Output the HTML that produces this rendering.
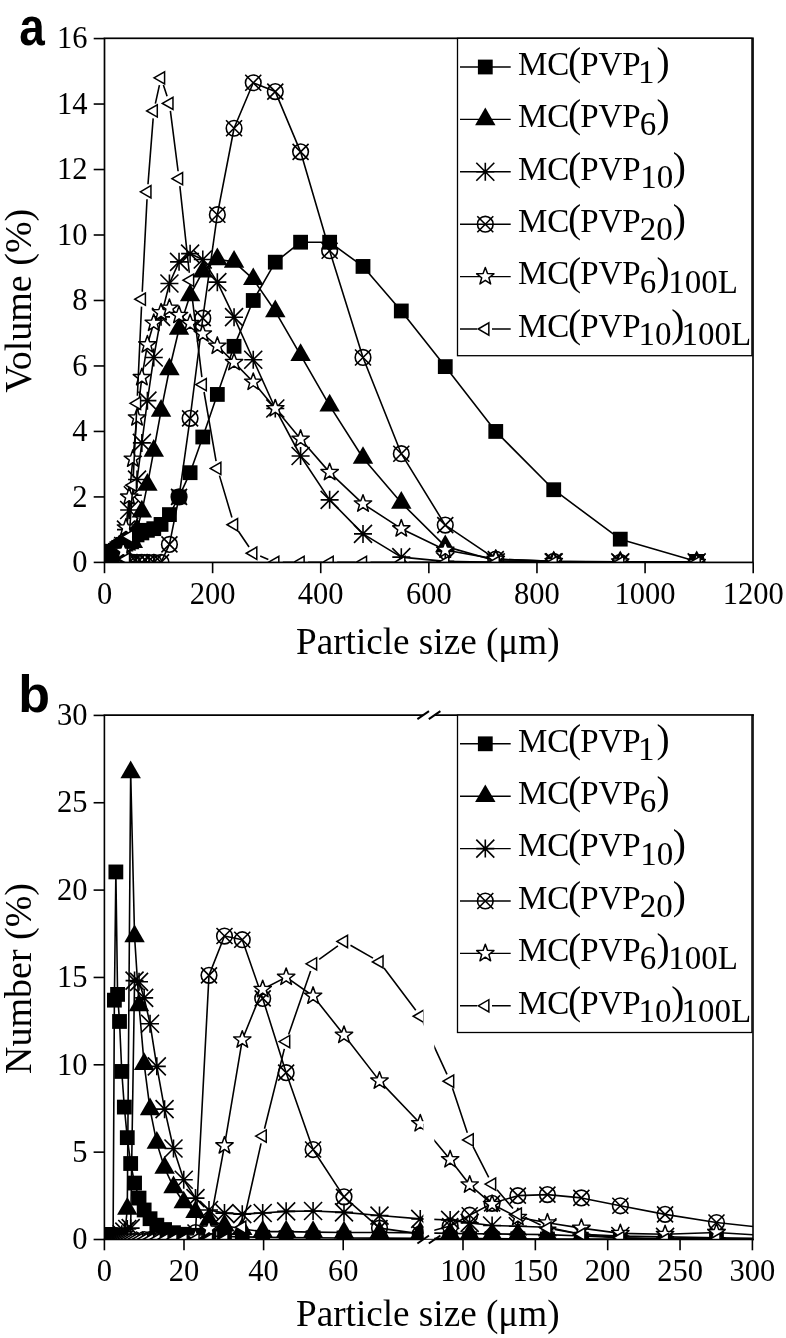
<!DOCTYPE html>
<html><head><meta charset="utf-8"><title>Particle size distribution</title>
<style>html,body{margin:0;padding:0;background:#fff;width:786px;height:1338px;overflow:hidden}svg{display:block;will-change:transform}text{fill:#000}</style>
</head><body>
<svg width="786" height="1338" viewBox="0 0 786 1338" font-family="'Liberation Serif', serif">
<defs>
<clipPath id="clipA"><rect x="104.5" y="38.3" width="648.5" height="524.1"/></clipPath>
<clipPath id="clipB"><rect x="104.4" y="715.1" width="319.0" height="524.4"/><rect x="434.3" y="715.1" width="318.7" height="524.4"/></clipPath>
</defs>
<rect width="786" height="1338" fill="#fff"/>
<g clip-path="url(#clipA)">
<path d="M104.70,557.49L104.73,557.49L104.76,557.49L104.80,557.49L104.84,557.49L104.89,557.49L104.95,557.49L105.02,557.49L105.09,557.49L105.18,557.49L105.28,557.49L105.40,557.49L105.53,557.49L105.68,557.49L105.86,557.49L106.06,557.49L106.29,557.49L106.55,557.49L106.86,557.49L107.21,557.49L107.61,557.49L108.07,557.49L108.60,557.49L109.20,556.83L109.90,555.85L110.70,554.87L111.62,553.89L112.67,552.91L113.89,551.60L115.28,550.29L116.87,548.65L118.71,547.34L120.81,546.03L123.23,544.39L126.00,542.76L129.19,540.14L132.84,537.52L137.04,534.90L141.86,532.93L147.40,530.31L153.76,528.68L161.05,524.42L169.43,514.60L179.05,496.92L190.10,472.69L202.78,437.01L217.34,394.44L234.06,346.32L253.25,300.48L275.29,262.17L300.59,242.20L329.64,242.20L363.00,266.43L401.30,310.96L445.27,366.61L495.76,431.44L553.72,489.72L620.27,539.15L696.69,561.42" stroke="#000" stroke-width="1.6" fill="none" stroke-linejoin="round"/>
<rect x="97.30" y="550.09" width="14.8" height="14.8" fill="#000"/>
<rect x="97.33" y="550.09" width="14.8" height="14.8" fill="#000"/>
<rect x="97.36" y="550.09" width="14.8" height="14.8" fill="#000"/>
<rect x="97.40" y="550.09" width="14.8" height="14.8" fill="#000"/>
<rect x="97.44" y="550.09" width="14.8" height="14.8" fill="#000"/>
<rect x="97.49" y="550.09" width="14.8" height="14.8" fill="#000"/>
<rect x="97.55" y="550.09" width="14.8" height="14.8" fill="#000"/>
<rect x="97.62" y="550.09" width="14.8" height="14.8" fill="#000"/>
<rect x="97.69" y="550.09" width="14.8" height="14.8" fill="#000"/>
<rect x="97.78" y="550.09" width="14.8" height="14.8" fill="#000"/>
<rect x="97.88" y="550.09" width="14.8" height="14.8" fill="#000"/>
<rect x="98.00" y="550.09" width="14.8" height="14.8" fill="#000"/>
<rect x="98.13" y="550.09" width="14.8" height="14.8" fill="#000"/>
<rect x="98.28" y="550.09" width="14.8" height="14.8" fill="#000"/>
<rect x="98.46" y="550.09" width="14.8" height="14.8" fill="#000"/>
<rect x="98.66" y="550.09" width="14.8" height="14.8" fill="#000"/>
<rect x="98.89" y="550.09" width="14.8" height="14.8" fill="#000"/>
<rect x="99.15" y="550.09" width="14.8" height="14.8" fill="#000"/>
<rect x="99.46" y="550.09" width="14.8" height="14.8" fill="#000"/>
<rect x="99.81" y="550.09" width="14.8" height="14.8" fill="#000"/>
<rect x="100.21" y="550.09" width="14.8" height="14.8" fill="#000"/>
<rect x="100.67" y="550.09" width="14.8" height="14.8" fill="#000"/>
<rect x="101.20" y="550.09" width="14.8" height="14.8" fill="#000"/>
<rect x="101.80" y="549.43" width="14.8" height="14.8" fill="#000"/>
<rect x="102.50" y="548.45" width="14.8" height="14.8" fill="#000"/>
<rect x="103.30" y="547.47" width="14.8" height="14.8" fill="#000"/>
<rect x="104.22" y="546.49" width="14.8" height="14.8" fill="#000"/>
<rect x="105.27" y="545.51" width="14.8" height="14.8" fill="#000"/>
<rect x="106.49" y="544.20" width="14.8" height="14.8" fill="#000"/>
<rect x="107.88" y="542.89" width="14.8" height="14.8" fill="#000"/>
<rect x="109.47" y="541.25" width="14.8" height="14.8" fill="#000"/>
<rect x="111.31" y="539.94" width="14.8" height="14.8" fill="#000"/>
<rect x="113.41" y="538.63" width="14.8" height="14.8" fill="#000"/>
<rect x="115.83" y="536.99" width="14.8" height="14.8" fill="#000"/>
<rect x="118.60" y="535.36" width="14.8" height="14.8" fill="#000"/>
<rect x="121.79" y="532.74" width="14.8" height="14.8" fill="#000"/>
<rect x="125.44" y="530.12" width="14.8" height="14.8" fill="#000"/>
<rect x="129.64" y="527.50" width="14.8" height="14.8" fill="#000"/>
<rect x="134.46" y="525.53" width="14.8" height="14.8" fill="#000"/>
<rect x="140.00" y="522.91" width="14.8" height="14.8" fill="#000"/>
<rect x="146.36" y="521.28" width="14.8" height="14.8" fill="#000"/>
<rect x="153.65" y="517.02" width="14.8" height="14.8" fill="#000"/>
<rect x="162.03" y="507.20" width="14.8" height="14.8" fill="#000"/>
<rect x="171.65" y="489.52" width="14.8" height="14.8" fill="#000"/>
<rect x="182.70" y="465.29" width="14.8" height="14.8" fill="#000"/>
<rect x="195.38" y="429.61" width="14.8" height="14.8" fill="#000"/>
<rect x="209.94" y="387.04" width="14.8" height="14.8" fill="#000"/>
<rect x="226.66" y="338.92" width="14.8" height="14.8" fill="#000"/>
<rect x="245.85" y="293.08" width="14.8" height="14.8" fill="#000"/>
<rect x="267.89" y="254.77" width="14.8" height="14.8" fill="#000"/>
<rect x="293.19" y="234.80" width="14.8" height="14.8" fill="#000"/>
<rect x="322.24" y="234.80" width="14.8" height="14.8" fill="#000"/>
<rect x="355.60" y="259.03" width="14.8" height="14.8" fill="#000"/>
<rect x="393.90" y="303.56" width="14.8" height="14.8" fill="#000"/>
<rect x="437.87" y="359.21" width="14.8" height="14.8" fill="#000"/>
<rect x="488.36" y="424.04" width="14.8" height="14.8" fill="#000"/>
<rect x="546.32" y="482.32" width="14.8" height="14.8" fill="#000"/>
<rect x="612.87" y="531.75" width="14.8" height="14.8" fill="#000"/>
<rect x="689.29" y="554.02" width="14.8" height="14.8" fill="#000"/>
<path d="M104.70,555.52L104.73,555.52L104.76,555.52L104.80,555.52L104.84,555.52L104.89,555.52L104.95,555.52L105.02,555.52L105.09,555.52L105.18,555.52L105.28,555.52L105.40,555.52L105.53,555.52L105.68,555.52L105.86,555.52L106.06,555.52L106.29,555.52L106.55,555.52L106.86,555.52L107.21,555.52L107.61,555.52L108.07,555.52L108.60,555.52L109.20,555.20L109.90,554.54L110.70,553.89L111.62,552.91L112.67,551.92L113.89,550.94L115.28,549.96L116.87,548.65L118.71,547.67L120.81,546.68L123.23,545.70L126.00,544.72L129.19,543.41L132.84,542.10L137.04,529.66L141.86,511.65L147.40,484.81L153.76,450.76L161.05,410.81L169.43,369.23L179.05,328.96L190.10,295.24L202.78,271.67L217.34,259.23L234.06,261.85L253.25,279.20L275.29,311.28L300.59,355.16L329.64,405.58L363.00,457.96L401.30,502.81L445.27,546.36L495.76,560.76L553.72,562.40L620.27,562.40L696.69,562.40" stroke="#000" stroke-width="1.6" fill="none" stroke-linejoin="round"/>
<path d="M104.70,543.72L114.92,561.42L94.48,561.42Z" fill="#000"/>
<path d="M104.73,543.72L114.94,561.42L94.51,561.42Z" fill="#000"/>
<path d="M104.76,543.72L114.98,561.42L94.54,561.42Z" fill="#000"/>
<path d="M104.80,543.72L115.02,561.42L94.58,561.42Z" fill="#000"/>
<path d="M104.84,543.72L115.06,561.42L94.62,561.42Z" fill="#000"/>
<path d="M104.89,543.72L115.11,561.42L94.67,561.42Z" fill="#000"/>
<path d="M104.95,543.72L115.17,561.42L94.73,561.42Z" fill="#000"/>
<path d="M105.02,543.72L115.23,561.42L94.80,561.42Z" fill="#000"/>
<path d="M105.09,543.72L115.31,561.42L94.87,561.42Z" fill="#000"/>
<path d="M105.18,543.72L115.40,561.42L94.96,561.42Z" fill="#000"/>
<path d="M105.28,543.72L115.50,561.42L95.06,561.42Z" fill="#000"/>
<path d="M105.40,543.72L115.62,561.42L95.18,561.42Z" fill="#000"/>
<path d="M105.53,543.72L115.75,561.42L95.31,561.42Z" fill="#000"/>
<path d="M105.68,543.72L115.90,561.42L95.46,561.42Z" fill="#000"/>
<path d="M105.86,543.72L116.08,561.42L95.64,561.42Z" fill="#000"/>
<path d="M106.06,543.72L116.28,561.42L95.84,561.42Z" fill="#000"/>
<path d="M106.29,543.72L116.51,561.42L96.07,561.42Z" fill="#000"/>
<path d="M106.55,543.72L116.77,561.42L96.33,561.42Z" fill="#000"/>
<path d="M106.86,543.72L117.08,561.42L96.64,561.42Z" fill="#000"/>
<path d="M107.21,543.72L117.43,561.42L96.99,561.42Z" fill="#000"/>
<path d="M107.61,543.72L117.83,561.42L97.39,561.42Z" fill="#000"/>
<path d="M108.07,543.72L118.29,561.42L97.85,561.42Z" fill="#000"/>
<path d="M108.60,543.72L118.82,561.42L98.38,561.42Z" fill="#000"/>
<path d="M109.20,543.40L119.42,561.10L98.98,561.10Z" fill="#000"/>
<path d="M109.90,542.74L120.12,560.44L99.68,560.44Z" fill="#000"/>
<path d="M110.70,542.09L120.92,559.79L100.48,559.79Z" fill="#000"/>
<path d="M111.62,541.11L121.84,558.81L101.40,558.81Z" fill="#000"/>
<path d="M112.67,540.12L122.89,557.82L102.46,557.82Z" fill="#000"/>
<path d="M113.89,539.14L124.10,556.84L103.67,556.84Z" fill="#000"/>
<path d="M115.28,538.16L125.50,555.86L105.06,555.86Z" fill="#000"/>
<path d="M116.87,536.85L127.09,554.55L106.65,554.55Z" fill="#000"/>
<path d="M118.71,535.87L128.92,553.57L108.49,553.57Z" fill="#000"/>
<path d="M120.81,534.88L131.03,552.58L110.59,552.58Z" fill="#000"/>
<path d="M123.23,533.90L133.45,551.60L113.01,551.60Z" fill="#000"/>
<path d="M126.00,532.92L136.22,550.62L115.78,550.62Z" fill="#000"/>
<path d="M129.19,531.61L139.41,549.31L118.97,549.31Z" fill="#000"/>
<path d="M132.84,530.30L143.06,548.00L122.62,548.00Z" fill="#000"/>
<path d="M137.04,517.86L147.26,535.56L126.82,535.56Z" fill="#000"/>
<path d="M141.86,499.85L152.08,517.55L131.65,517.55Z" fill="#000"/>
<path d="M147.40,473.01L157.62,490.71L137.18,490.71Z" fill="#000"/>
<path d="M153.76,438.96L163.98,456.66L143.54,456.66Z" fill="#000"/>
<path d="M161.05,399.01L171.27,416.71L150.83,416.71Z" fill="#000"/>
<path d="M169.43,357.43L179.65,375.13L159.21,375.13Z" fill="#000"/>
<path d="M179.05,317.16L189.27,334.86L168.83,334.86Z" fill="#000"/>
<path d="M190.10,283.44L200.32,301.14L179.88,301.14Z" fill="#000"/>
<path d="M202.78,259.87L213.00,277.57L192.56,277.57Z" fill="#000"/>
<path d="M217.34,247.43L227.56,265.13L207.12,265.13Z" fill="#000"/>
<path d="M234.06,250.05L244.28,267.75L223.84,267.75Z" fill="#000"/>
<path d="M253.25,267.40L263.47,285.10L243.03,285.10Z" fill="#000"/>
<path d="M275.29,299.48L285.51,317.18L265.07,317.18Z" fill="#000"/>
<path d="M300.59,343.36L310.81,361.06L290.37,361.06Z" fill="#000"/>
<path d="M329.64,393.78L339.86,411.48L319.42,411.48Z" fill="#000"/>
<path d="M363.00,446.16L373.22,463.86L352.78,463.86Z" fill="#000"/>
<path d="M401.30,491.01L411.52,508.71L391.08,508.71Z" fill="#000"/>
<path d="M445.27,534.56L455.49,552.26L435.05,552.26Z" fill="#000"/>
<path d="M495.76,548.96L505.97,566.66L485.54,566.66Z" fill="#000"/>
<path d="M553.72,550.60L563.94,568.30L543.50,568.30Z" fill="#000"/>
<path d="M620.27,550.60L630.49,568.30L610.06,568.30Z" fill="#000"/>
<path d="M696.69,550.60L706.91,568.30L686.47,568.30Z" fill="#000"/>
<path d="M116.87,560.76L118.71,559.13L120.81,554.22L123.23,546.03L126.00,529.66L129.19,510.02L132.84,495.28L137.04,479.57L141.86,442.90L147.40,400.66L153.76,357.45L161.05,316.85L169.43,283.46L179.05,261.85L190.10,253.66L202.78,259.55L217.34,282.15L234.06,317.18L253.25,359.74L275.29,408.52L300.59,456.00L329.64,499.87L363.00,533.92L401.30,557.16L445.27,561.42L495.76,562.40L553.72,562.40L620.27,562.40L696.69,562.40" stroke="#000" stroke-width="1.6" fill="none" stroke-linejoin="round"/>
<path d="M107.87,560.76H125.87M116.87,551.76V569.76M107.87,551.76L125.87,569.76M107.87,569.76L125.87,551.76" stroke="#000" stroke-width="1.6" fill="none"/>
<path d="M109.71,559.13H127.71M118.71,550.13V568.13M109.71,550.13L127.71,568.13M109.71,568.13L127.71,550.13" stroke="#000" stroke-width="1.6" fill="none"/>
<path d="M111.81,554.22H129.81M120.81,545.22V563.22M111.81,545.22L129.81,563.22M111.81,563.22L129.81,545.22" stroke="#000" stroke-width="1.6" fill="none"/>
<path d="M114.23,546.03H132.23M123.23,537.03V555.03M114.23,537.03L132.23,555.03M114.23,555.03L132.23,537.03" stroke="#000" stroke-width="1.6" fill="none"/>
<path d="M117.00,529.66H135.00M126.00,520.66V538.66M117.00,520.66L135.00,538.66M117.00,538.66L135.00,520.66" stroke="#000" stroke-width="1.6" fill="none"/>
<path d="M120.19,510.02H138.19M129.19,501.02V519.02M120.19,501.02L138.19,519.02M120.19,519.02L138.19,501.02" stroke="#000" stroke-width="1.6" fill="none"/>
<path d="M123.84,495.28H141.84M132.84,486.28V504.28M123.84,486.28L141.84,504.28M123.84,504.28L141.84,486.28" stroke="#000" stroke-width="1.6" fill="none"/>
<path d="M128.04,479.57H146.04M137.04,470.57V488.57M128.04,470.57L146.04,488.57M128.04,488.57L146.04,470.57" stroke="#000" stroke-width="1.6" fill="none"/>
<path d="M132.86,442.90H150.86M141.86,433.90V451.90M132.86,433.90L150.86,451.90M132.86,451.90L150.86,433.90" stroke="#000" stroke-width="1.6" fill="none"/>
<path d="M138.40,400.66H156.40M147.40,391.66V409.66M138.40,391.66L156.40,409.66M138.40,409.66L156.40,391.66" stroke="#000" stroke-width="1.6" fill="none"/>
<path d="M144.76,357.45H162.76M153.76,348.45V366.45M144.76,348.45L162.76,366.45M144.76,366.45L162.76,348.45" stroke="#000" stroke-width="1.6" fill="none"/>
<path d="M152.05,316.85H170.05M161.05,307.85V325.85M152.05,307.85L170.05,325.85M152.05,325.85L170.05,307.85" stroke="#000" stroke-width="1.6" fill="none"/>
<path d="M160.43,283.46H178.43M169.43,274.46V292.46M160.43,274.46L178.43,292.46M160.43,292.46L178.43,274.46" stroke="#000" stroke-width="1.6" fill="none"/>
<path d="M170.05,261.85H188.05M179.05,252.85V270.85M170.05,252.85L188.05,270.85M170.05,270.85L188.05,252.85" stroke="#000" stroke-width="1.6" fill="none"/>
<path d="M181.10,253.66H199.10M190.10,244.66V262.66M181.10,244.66L199.10,262.66M181.10,262.66L199.10,244.66" stroke="#000" stroke-width="1.6" fill="none"/>
<path d="M193.78,259.55H211.78M202.78,250.55V268.55M193.78,250.55L211.78,268.55M193.78,268.55L211.78,250.55" stroke="#000" stroke-width="1.6" fill="none"/>
<path d="M208.34,282.15H226.34M217.34,273.15V291.15M208.34,273.15L226.34,291.15M208.34,291.15L226.34,273.15" stroke="#000" stroke-width="1.6" fill="none"/>
<path d="M225.06,317.18H243.06M234.06,308.18V326.18M225.06,308.18L243.06,326.18M225.06,326.18L243.06,308.18" stroke="#000" stroke-width="1.6" fill="none"/>
<path d="M244.25,359.74H262.25M253.25,350.74V368.74M244.25,350.74L262.25,368.74M244.25,368.74L262.25,350.74" stroke="#000" stroke-width="1.6" fill="none"/>
<path d="M266.29,408.52H284.29M275.29,399.52V417.52M266.29,399.52L284.29,417.52M266.29,417.52L284.29,399.52" stroke="#000" stroke-width="1.6" fill="none"/>
<path d="M291.59,456.00H309.59M300.59,447.00V465.00M291.59,447.00L309.59,465.00M291.59,465.00L309.59,447.00" stroke="#000" stroke-width="1.6" fill="none"/>
<path d="M320.64,499.87H338.64M329.64,490.87V508.87M320.64,490.87L338.64,508.87M320.64,508.87L338.64,490.87" stroke="#000" stroke-width="1.6" fill="none"/>
<path d="M354.00,533.92H372.00M363.00,524.92V542.92M354.00,524.92L372.00,542.92M354.00,542.92L372.00,524.92" stroke="#000" stroke-width="1.6" fill="none"/>
<path d="M392.30,557.16H410.30M401.30,548.16V566.16M392.30,548.16L410.30,566.16M392.30,566.16L410.30,548.16" stroke="#000" stroke-width="1.6" fill="none"/>
<path d="M436.27,561.42H454.27M445.27,552.42V570.42M436.27,552.42L454.27,570.42M436.27,570.42L454.27,552.42" stroke="#000" stroke-width="1.6" fill="none"/>
<path d="M486.76,562.40H504.76M495.76,553.40V571.40M486.76,553.40L504.76,571.40M486.76,571.40L504.76,553.40" stroke="#000" stroke-width="1.6" fill="none"/>
<path d="M544.72,562.40H562.72M553.72,553.40V571.40M544.72,553.40L562.72,571.40M544.72,571.40L562.72,553.40" stroke="#000" stroke-width="1.6" fill="none"/>
<path d="M611.27,562.40H629.27M620.27,553.40V571.40M611.27,553.40L629.27,571.40M611.27,571.40L629.27,553.40" stroke="#000" stroke-width="1.6" fill="none"/>
<path d="M687.69,562.40H705.69M696.69,553.40V571.40M687.69,553.40L705.69,571.40M687.69,571.40L705.69,553.40" stroke="#000" stroke-width="1.6" fill="none"/>
<path d="M129.19,562.40L132.84,562.40L137.04,562.40L141.86,562.40L147.40,562.40L153.76,562.40L161.05,562.40L169.43,544.39L179.05,496.92L190.10,418.34L202.78,318.16L217.34,214.70L234.06,128.27L253.25,82.76L275.29,91.60L300.59,151.84L329.64,250.72L363.00,357.45L401.30,453.70L445.27,525.08L495.76,559.13L553.72,561.42L620.27,562.40L696.69,562.40" stroke="#000" stroke-width="1.6" fill="none" stroke-linejoin="round"/>
<circle cx="129.19" cy="562.40" r="7.8" stroke="#000" stroke-width="1.6" fill="none"/><path d="M121.19,554.40L137.19,570.40M121.19,570.40L137.19,554.40" stroke="#000" stroke-width="1.6"/>
<circle cx="132.84" cy="562.40" r="7.8" stroke="#000" stroke-width="1.6" fill="none"/><path d="M124.84,554.40L140.84,570.40M124.84,570.40L140.84,554.40" stroke="#000" stroke-width="1.6"/>
<circle cx="137.04" cy="562.40" r="7.8" stroke="#000" stroke-width="1.6" fill="none"/><path d="M129.04,554.40L145.04,570.40M129.04,570.40L145.04,554.40" stroke="#000" stroke-width="1.6"/>
<circle cx="141.86" cy="562.40" r="7.8" stroke="#000" stroke-width="1.6" fill="none"/><path d="M133.86,554.40L149.86,570.40M133.86,570.40L149.86,554.40" stroke="#000" stroke-width="1.6"/>
<circle cx="147.40" cy="562.40" r="7.8" stroke="#000" stroke-width="1.6" fill="none"/><path d="M139.40,554.40L155.40,570.40M139.40,570.40L155.40,554.40" stroke="#000" stroke-width="1.6"/>
<circle cx="153.76" cy="562.40" r="7.8" stroke="#000" stroke-width="1.6" fill="none"/><path d="M145.76,554.40L161.76,570.40M145.76,570.40L161.76,554.40" stroke="#000" stroke-width="1.6"/>
<circle cx="161.05" cy="562.40" r="7.8" stroke="#000" stroke-width="1.6" fill="none"/><path d="M153.05,554.40L169.05,570.40M153.05,570.40L169.05,554.40" stroke="#000" stroke-width="1.6"/>
<circle cx="169.43" cy="544.39" r="7.8" stroke="#000" stroke-width="1.6" fill="none"/><path d="M161.43,536.39L177.43,552.39M161.43,552.39L177.43,536.39" stroke="#000" stroke-width="1.6"/>
<circle cx="179.05" cy="496.92" r="7.8" stroke="#000" stroke-width="1.6" fill="none"/><path d="M171.05,488.92L187.05,504.92M171.05,504.92L187.05,488.92" stroke="#000" stroke-width="1.6"/>
<circle cx="190.10" cy="418.34" r="7.8" stroke="#000" stroke-width="1.6" fill="none"/><path d="M182.10,410.34L198.10,426.34M182.10,426.34L198.10,410.34" stroke="#000" stroke-width="1.6"/>
<circle cx="202.78" cy="318.16" r="7.8" stroke="#000" stroke-width="1.6" fill="none"/><path d="M194.78,310.16L210.78,326.16M194.78,326.16L210.78,310.16" stroke="#000" stroke-width="1.6"/>
<circle cx="217.34" cy="214.70" r="7.8" stroke="#000" stroke-width="1.6" fill="none"/><path d="M209.34,206.70L225.34,222.70M209.34,222.70L225.34,206.70" stroke="#000" stroke-width="1.6"/>
<circle cx="234.06" cy="128.27" r="7.8" stroke="#000" stroke-width="1.6" fill="none"/><path d="M226.06,120.27L242.06,136.27M226.06,136.27L242.06,120.27" stroke="#000" stroke-width="1.6"/>
<circle cx="253.25" cy="82.76" r="7.8" stroke="#000" stroke-width="1.6" fill="none"/><path d="M245.25,74.76L261.25,90.76M245.25,90.76L261.25,74.76" stroke="#000" stroke-width="1.6"/>
<circle cx="275.29" cy="91.60" r="7.8" stroke="#000" stroke-width="1.6" fill="none"/><path d="M267.29,83.60L283.29,99.60M267.29,99.60L283.29,83.60" stroke="#000" stroke-width="1.6"/>
<circle cx="300.59" cy="151.84" r="7.8" stroke="#000" stroke-width="1.6" fill="none"/><path d="M292.59,143.84L308.59,159.84M292.59,159.84L308.59,143.84" stroke="#000" stroke-width="1.6"/>
<circle cx="329.64" cy="250.72" r="7.8" stroke="#000" stroke-width="1.6" fill="none"/><path d="M321.64,242.72L337.64,258.72M321.64,258.72L337.64,242.72" stroke="#000" stroke-width="1.6"/>
<circle cx="363.00" cy="357.45" r="7.8" stroke="#000" stroke-width="1.6" fill="none"/><path d="M355.00,349.45L371.00,365.45M355.00,365.45L371.00,349.45" stroke="#000" stroke-width="1.6"/>
<circle cx="401.30" cy="453.70" r="7.8" stroke="#000" stroke-width="1.6" fill="none"/><path d="M393.30,445.70L409.30,461.70M393.30,461.70L409.30,445.70" stroke="#000" stroke-width="1.6"/>
<circle cx="445.27" cy="525.08" r="7.8" stroke="#000" stroke-width="1.6" fill="none"/><path d="M437.27,517.08L453.27,533.08M437.27,533.08L453.27,517.08" stroke="#000" stroke-width="1.6"/>
<circle cx="495.76" cy="559.13" r="7.8" stroke="#000" stroke-width="1.6" fill="none"/><path d="M487.76,551.13L503.76,567.13M487.76,567.13L503.76,551.13" stroke="#000" stroke-width="1.6"/>
<circle cx="553.72" cy="561.42" r="7.8" stroke="#000" stroke-width="1.6" fill="none"/><path d="M545.72,553.42L561.72,569.42M545.72,569.42L561.72,553.42" stroke="#000" stroke-width="1.6"/>
<circle cx="620.27" cy="562.40" r="7.8" stroke="#000" stroke-width="1.6" fill="none"/><path d="M612.27,554.40L628.27,570.40M612.27,570.40L628.27,554.40" stroke="#000" stroke-width="1.6"/>
<circle cx="696.69" cy="562.40" r="7.8" stroke="#000" stroke-width="1.6" fill="none"/><path d="M688.69,554.40L704.69,570.40M688.69,570.40L704.69,554.40" stroke="#000" stroke-width="1.6"/>
<path d="M123.23,550.94L126.00,527.70L129.19,496.92L132.84,458.94L137.04,417.69L141.86,377.42L147.40,344.68L153.76,323.07L161.05,312.59L169.43,308.01L179.05,315.21L190.10,323.40L202.78,333.87L217.34,345.99L234.06,362.36L253.25,382.00L275.29,408.52L300.59,438.97L329.64,472.36L363.00,503.80L401.30,528.68L445.27,549.96L495.76,559.13L553.72,561.42L620.27,561.75L696.69,562.40" stroke="#000" stroke-width="1.6" fill="none" stroke-linejoin="round"/>
<polygon points="123.23,541.84 125.43,547.91 131.88,548.13 126.79,552.10 128.58,558.30 123.23,554.69 117.88,558.30 119.66,552.10 114.57,548.13 121.02,547.91" fill="#fff" stroke="#000" stroke-width="1.5" stroke-linejoin="round"/>
<polygon points="126.00,518.60 128.21,524.66 134.66,524.88 129.57,528.85 131.35,535.06 126.00,531.45 120.65,535.06 122.43,528.85 117.35,524.88 123.80,524.66" fill="#fff" stroke="#000" stroke-width="1.5" stroke-linejoin="round"/>
<polygon points="129.19,487.82 131.39,493.89 137.84,494.11 132.75,498.08 134.54,504.28 129.19,500.67 123.84,504.28 125.62,498.08 120.53,494.11 126.98,493.89" fill="#fff" stroke="#000" stroke-width="1.5" stroke-linejoin="round"/>
<polygon points="132.84,449.84 135.05,455.91 141.50,456.13 136.41,460.10 138.19,466.30 132.84,462.69 127.50,466.30 129.28,460.10 124.19,456.13 130.64,455.91" fill="#fff" stroke="#000" stroke-width="1.5" stroke-linejoin="round"/>
<polygon points="137.04,408.59 139.25,414.66 145.70,414.88 140.61,418.85 142.39,425.05 137.04,421.44 131.69,425.05 133.48,418.85 128.39,414.88 134.84,414.66" fill="#fff" stroke="#000" stroke-width="1.5" stroke-linejoin="round"/>
<polygon points="141.86,368.32 144.07,374.39 150.52,374.61 145.43,378.58 147.21,384.78 141.86,381.17 136.52,384.78 138.30,378.58 133.21,374.61 139.66,374.39" fill="#fff" stroke="#000" stroke-width="1.5" stroke-linejoin="round"/>
<polygon points="147.40,335.58 149.60,341.65 156.05,341.87 150.97,345.84 152.75,352.04 147.40,348.43 142.05,352.04 143.83,345.84 138.75,341.87 145.20,341.65" fill="#fff" stroke="#000" stroke-width="1.5" stroke-linejoin="round"/>
<polygon points="153.76,313.97 155.96,320.04 162.41,320.26 157.32,324.23 159.10,330.43 153.76,326.82 148.41,330.43 150.19,324.23 145.10,320.26 151.55,320.04" fill="#fff" stroke="#000" stroke-width="1.5" stroke-linejoin="round"/>
<polygon points="161.05,303.49 163.26,309.56 169.71,309.78 164.62,313.75 166.40,319.96 161.05,316.34 155.70,319.96 157.49,313.75 152.40,309.78 158.85,309.56" fill="#fff" stroke="#000" stroke-width="1.5" stroke-linejoin="round"/>
<polygon points="169.43,298.91 171.64,304.98 178.09,305.20 173.00,309.17 174.78,315.37 169.43,311.76 164.08,315.37 165.87,309.17 160.78,305.20 167.23,304.98" fill="#fff" stroke="#000" stroke-width="1.5" stroke-linejoin="round"/>
<polygon points="179.05,306.11 181.26,312.18 187.71,312.40 182.62,316.37 184.40,322.58 179.05,318.96 173.70,322.58 175.49,316.37 170.40,312.40 176.85,312.18" fill="#fff" stroke="#000" stroke-width="1.5" stroke-linejoin="round"/>
<polygon points="190.10,314.30 192.30,320.36 198.75,320.59 193.66,324.56 195.45,330.76 190.10,327.15 184.75,330.76 186.53,324.56 181.44,320.59 187.89,320.36" fill="#fff" stroke="#000" stroke-width="1.5" stroke-linejoin="round"/>
<polygon points="202.78,324.77 204.98,330.84 211.43,331.06 206.35,335.03 208.13,341.24 202.78,337.62 197.43,341.24 199.21,335.03 194.12,331.06 200.57,330.84" fill="#fff" stroke="#000" stroke-width="1.5" stroke-linejoin="round"/>
<polygon points="217.34,336.89 219.54,342.95 225.99,343.18 220.91,347.15 222.69,353.35 217.34,349.74 211.99,353.35 213.77,347.15 208.68,343.18 215.13,342.95" fill="#fff" stroke="#000" stroke-width="1.5" stroke-linejoin="round"/>
<polygon points="234.06,353.26 236.26,359.32 242.71,359.55 237.62,363.52 239.41,369.72 234.06,366.11 228.71,369.72 230.49,363.52 225.40,359.55 231.85,359.32" fill="#fff" stroke="#000" stroke-width="1.5" stroke-linejoin="round"/>
<polygon points="253.25,372.90 255.46,378.97 261.91,379.19 256.82,383.16 258.60,389.36 253.25,385.75 247.90,389.36 249.68,383.16 244.60,379.19 251.05,378.97" fill="#fff" stroke="#000" stroke-width="1.5" stroke-linejoin="round"/>
<polygon points="275.29,399.42 277.49,405.49 283.94,405.71 278.86,409.68 280.64,415.88 275.29,412.27 269.94,415.88 271.72,409.68 266.63,405.71 273.08,405.49" fill="#fff" stroke="#000" stroke-width="1.5" stroke-linejoin="round"/>
<polygon points="300.59,429.87 302.80,435.94 309.25,436.16 304.16,440.13 305.94,446.33 300.59,442.72 295.24,446.33 297.03,440.13 291.94,436.16 298.39,435.94" fill="#fff" stroke="#000" stroke-width="1.5" stroke-linejoin="round"/>
<polygon points="329.64,463.26 331.85,469.33 338.30,469.55 333.21,473.52 334.99,479.73 329.64,476.11 324.29,479.73 326.08,473.52 320.99,469.55 327.44,469.33" fill="#fff" stroke="#000" stroke-width="1.5" stroke-linejoin="round"/>
<polygon points="363.00,494.70 365.20,500.76 371.65,500.98 366.57,504.95 368.35,511.16 363.00,507.55 357.65,511.16 359.43,504.95 354.35,500.98 360.80,500.76" fill="#fff" stroke="#000" stroke-width="1.5" stroke-linejoin="round"/>
<polygon points="401.30,519.58 403.50,525.64 409.95,525.87 404.86,529.84 406.65,536.04 401.30,532.43 395.95,536.04 397.73,529.84 392.64,525.87 399.09,525.64" fill="#fff" stroke="#000" stroke-width="1.5" stroke-linejoin="round"/>
<polygon points="445.27,540.86 447.47,546.92 453.92,547.15 448.84,551.12 450.62,557.32 445.27,553.71 439.92,557.32 441.70,551.12 436.61,547.15 443.06,546.92" fill="#fff" stroke="#000" stroke-width="1.5" stroke-linejoin="round"/>
<polygon points="495.76,550.03 497.96,556.09 504.41,556.31 499.32,560.28 501.10,566.49 495.76,562.88 490.41,566.49 492.19,560.28 487.10,556.31 493.55,556.09" fill="#fff" stroke="#000" stroke-width="1.5" stroke-linejoin="round"/>
<polygon points="553.72,552.32 555.93,558.38 562.38,558.61 557.29,562.58 559.07,568.78 553.72,565.17 548.37,568.78 550.15,562.58 545.07,558.61 551.52,558.38" fill="#fff" stroke="#000" stroke-width="1.5" stroke-linejoin="round"/>
<polygon points="620.27,552.65 622.48,558.71 628.93,558.93 623.84,562.90 625.62,569.11 620.27,565.50 614.93,569.11 616.71,562.90 611.62,558.93 618.07,558.71" fill="#fff" stroke="#000" stroke-width="1.5" stroke-linejoin="round"/>
<polygon points="696.69,553.30 698.89,559.37 705.34,559.59 700.25,563.56 702.04,569.76 696.69,566.15 691.34,569.76 693.12,563.56 688.03,559.59 694.48,559.37" fill="#fff" stroke="#000" stroke-width="1.5" stroke-linejoin="round"/>
<path d="M127.05,551.70L128.14,543.96M129.72,529.05L132.31,492.61M133.23,477.64L136.66,410.77M137.39,395.79L141.52,306.66M142.25,291.68L147.01,199.27M147.99,184.31L153.17,118.39M155.37,103.59L159.44,85.17M163.39,84.97L167.09,96.26M170.38,110.82L178.10,171.25M179.86,186.14L189.29,272.73M191.00,287.63L201.87,377.18M204.06,392.01L216.06,461.05M219.47,475.63L231.92,517.56M238.25,530.97L249.06,547.01M260.18,556.11L268.36,559.52M282.79,562.40L293.09,562.40M308.09,562.40L322.14,562.40M337.14,562.40L355.50,562.40M370.50,562.40L393.80,562.40M408.80,562.40L437.77,562.40M452.77,562.40L488.26,562.40M503.26,562.40L546.22,562.40M561.22,562.40L612.77,562.40M627.77,562.40L689.19,562.40" stroke="#000" stroke-width="1.6" fill="none"/>
<path d="M118.93,559.13L129.54,553.00L129.54,565.25Z" fill="#fff" stroke="#000" stroke-width="1.5"/>
<path d="M122.12,536.54L132.72,530.41L132.72,542.66Z" fill="#fff" stroke="#000" stroke-width="1.5"/>
<path d="M125.77,485.13L136.38,479.01L136.38,491.26Z" fill="#fff" stroke="#000" stroke-width="1.5"/>
<path d="M129.97,403.28L140.58,397.16L140.58,409.41Z" fill="#fff" stroke="#000" stroke-width="1.5"/>
<path d="M134.79,299.17L145.40,293.05L145.40,305.29Z" fill="#fff" stroke="#000" stroke-width="1.5"/>
<path d="M140.33,191.78L150.94,185.66L150.94,197.91Z" fill="#fff" stroke="#000" stroke-width="1.5"/>
<path d="M146.69,110.92L157.29,104.79L157.29,117.04Z" fill="#fff" stroke="#000" stroke-width="1.5"/>
<path d="M153.98,77.85L164.59,71.73L164.59,83.97Z" fill="#fff" stroke="#000" stroke-width="1.5"/>
<path d="M162.36,103.39L172.97,97.26L172.97,109.51Z" fill="#fff" stroke="#000" stroke-width="1.5"/>
<path d="M171.98,178.69L182.59,172.56L182.59,184.81Z" fill="#fff" stroke="#000" stroke-width="1.5"/>
<path d="M183.03,280.18L193.63,274.06L193.63,286.30Z" fill="#fff" stroke="#000" stroke-width="1.5"/>
<path d="M195.71,384.62L206.31,378.50L206.31,390.74Z" fill="#fff" stroke="#000" stroke-width="1.5"/>
<path d="M210.27,468.44L220.87,462.31L220.87,474.56Z" fill="#fff" stroke="#000" stroke-width="1.5"/>
<path d="M226.99,524.75L237.59,518.63L237.59,530.87Z" fill="#fff" stroke="#000" stroke-width="1.5"/>
<path d="M246.18,553.23L256.79,547.11L256.79,559.36Z" fill="#fff" stroke="#000" stroke-width="1.5"/>
<path d="M268.22,562.40L278.82,556.28L278.82,568.52Z" fill="#fff" stroke="#000" stroke-width="1.5"/>
<path d="M293.52,562.40L304.13,556.28L304.13,568.52Z" fill="#fff" stroke="#000" stroke-width="1.5"/>
<path d="M322.57,562.40L333.18,556.28L333.18,568.52Z" fill="#fff" stroke="#000" stroke-width="1.5"/>
<path d="M355.93,562.40L366.53,556.28L366.53,568.52Z" fill="#fff" stroke="#000" stroke-width="1.5"/>
<path d="M394.23,562.40L404.83,556.28L404.83,568.52Z" fill="#fff" stroke="#000" stroke-width="1.5"/>
<path d="M438.20,562.40L448.80,556.28L448.80,568.52Z" fill="#fff" stroke="#000" stroke-width="1.5"/>
<path d="M488.69,562.40L499.29,556.28L499.29,568.52Z" fill="#fff" stroke="#000" stroke-width="1.5"/>
<path d="M546.65,562.40L557.26,556.28L557.26,568.52Z" fill="#fff" stroke="#000" stroke-width="1.5"/>
<path d="M613.20,562.40L623.81,556.28L623.81,568.52Z" fill="#fff" stroke="#000" stroke-width="1.5"/>
<path d="M689.62,562.40L700.22,556.28L700.22,568.52Z" fill="#fff" stroke="#000" stroke-width="1.5"/>
</g>
<g clip-path="url(#clipB)">
<path d="M106.30,1234.96L106.59,1234.96L106.91,1234.96L107.28,1234.96L107.71,1234.96L108.20,1234.96L108.76,1234.96L109.41,1234.96L110.15,1234.96L111.00,1234.96L111.98,1234.96L113.10,1234.96L114.39,1000.16L115.87,871.93L117.57,994.40L119.52,1021.47L121.76,1071.44L124.33,1107.08L127.28,1137.65L130.67,1163.51L134.56,1183.07L139.03,1198.10L144.16,1209.98L150.05,1218.71L156.82,1225.17L164.58,1229.54L173.50,1232.69L183.74,1234.26L195.49,1235.31L208.99,1236.01L224.48,1236.53L242.27,1236.88L262.70,1237.23L286.15,1237.58L313.08,1237.75L344.00,1237.93L379.50,1238.10L420.25,1238.28L450.15,1238.45L469.68,1238.63L492.11,1238.63L517.86,1238.80L547.42,1238.98L581.37,1239.15L620.34,1239.15L665.09,1239.33L716.47,1239.33L775.46,1239.50L843.19,1239.50L920.95,1239.50L1010.24,1239.50L1112.75,1239.50" stroke="#000" stroke-width="1.6" fill="none" stroke-linejoin="round"/>
<rect x="98.90" y="1227.56" width="14.8" height="14.8" fill="#000"/>
<rect x="99.19" y="1227.56" width="14.8" height="14.8" fill="#000"/>
<rect x="99.51" y="1227.56" width="14.8" height="14.8" fill="#000"/>
<rect x="99.88" y="1227.56" width="14.8" height="14.8" fill="#000"/>
<rect x="100.31" y="1227.56" width="14.8" height="14.8" fill="#000"/>
<rect x="100.80" y="1227.56" width="14.8" height="14.8" fill="#000"/>
<rect x="101.36" y="1227.56" width="14.8" height="14.8" fill="#000"/>
<rect x="102.01" y="1227.56" width="14.8" height="14.8" fill="#000"/>
<rect x="102.75" y="1227.56" width="14.8" height="14.8" fill="#000"/>
<rect x="103.60" y="1227.56" width="14.8" height="14.8" fill="#000"/>
<rect x="104.58" y="1227.56" width="14.8" height="14.8" fill="#000"/>
<rect x="105.70" y="1227.56" width="14.8" height="14.8" fill="#000"/>
<rect x="106.99" y="992.76" width="14.8" height="14.8" fill="#000"/>
<rect x="108.47" y="864.53" width="14.8" height="14.8" fill="#000"/>
<rect x="110.17" y="987.00" width="14.8" height="14.8" fill="#000"/>
<rect x="112.12" y="1014.07" width="14.8" height="14.8" fill="#000"/>
<rect x="114.36" y="1064.04" width="14.8" height="14.8" fill="#000"/>
<rect x="116.93" y="1099.68" width="14.8" height="14.8" fill="#000"/>
<rect x="119.88" y="1130.25" width="14.8" height="14.8" fill="#000"/>
<rect x="123.27" y="1156.11" width="14.8" height="14.8" fill="#000"/>
<rect x="127.16" y="1175.67" width="14.8" height="14.8" fill="#000"/>
<rect x="131.63" y="1190.70" width="14.8" height="14.8" fill="#000"/>
<rect x="136.76" y="1202.58" width="14.8" height="14.8" fill="#000"/>
<rect x="142.65" y="1211.31" width="14.8" height="14.8" fill="#000"/>
<rect x="149.42" y="1217.77" width="14.8" height="14.8" fill="#000"/>
<rect x="157.18" y="1222.14" width="14.8" height="14.8" fill="#000"/>
<rect x="166.10" y="1225.29" width="14.8" height="14.8" fill="#000"/>
<rect x="176.34" y="1226.86" width="14.8" height="14.8" fill="#000"/>
<rect x="188.09" y="1227.91" width="14.8" height="14.8" fill="#000"/>
<rect x="201.59" y="1228.61" width="14.8" height="14.8" fill="#000"/>
<rect x="217.08" y="1229.13" width="14.8" height="14.8" fill="#000"/>
<rect x="234.87" y="1229.48" width="14.8" height="14.8" fill="#000"/>
<rect x="255.30" y="1229.83" width="14.8" height="14.8" fill="#000"/>
<rect x="278.75" y="1230.18" width="14.8" height="14.8" fill="#000"/>
<rect x="305.68" y="1230.35" width="14.8" height="14.8" fill="#000"/>
<rect x="336.60" y="1230.53" width="14.8" height="14.8" fill="#000"/>
<rect x="372.10" y="1230.70" width="14.8" height="14.8" fill="#000"/>
<rect x="412.85" y="1230.88" width="14.8" height="14.8" fill="#000"/>
<rect x="442.75" y="1231.05" width="14.8" height="14.8" fill="#000"/>
<rect x="462.28" y="1231.23" width="14.8" height="14.8" fill="#000"/>
<rect x="484.71" y="1231.23" width="14.8" height="14.8" fill="#000"/>
<rect x="510.46" y="1231.40" width="14.8" height="14.8" fill="#000"/>
<rect x="540.02" y="1231.58" width="14.8" height="14.8" fill="#000"/>
<rect x="573.97" y="1231.75" width="14.8" height="14.8" fill="#000"/>
<rect x="612.94" y="1231.75" width="14.8" height="14.8" fill="#000"/>
<rect x="657.69" y="1231.93" width="14.8" height="14.8" fill="#000"/>
<rect x="709.07" y="1231.93" width="14.8" height="14.8" fill="#000"/>
<rect x="768.06" y="1232.10" width="14.8" height="14.8" fill="#000"/>
<rect x="835.79" y="1232.10" width="14.8" height="14.8" fill="#000"/>
<rect x="913.55" y="1232.10" width="14.8" height="14.8" fill="#000"/>
<rect x="1002.84" y="1232.10" width="14.8" height="14.8" fill="#000"/>
<rect x="1105.35" y="1232.10" width="14.8" height="14.8" fill="#000"/>
<path d="M106.30,1239.50L106.59,1239.50L106.91,1239.50L107.28,1239.50L107.71,1239.50L108.20,1239.50L108.76,1239.50L109.41,1239.50L110.15,1239.50L111.00,1239.50L111.98,1239.50L113.10,1239.50L114.39,1239.50L115.87,1239.50L117.57,1239.50L119.52,1239.50L121.76,1239.50L124.33,1239.50L127.28,1208.75L130.67,772.35L134.56,936.40L139.03,1005.23L144.16,1064.10L150.05,1109.35L156.82,1142.89L164.58,1167.87L173.50,1187.26L183.74,1202.46L195.49,1212.07L208.99,1219.76L224.48,1225.52L242.27,1229.02L262.70,1231.64L286.15,1231.64L313.08,1232.16L344.00,1232.51L379.50,1232.51L420.25,1232.86L450.15,1233.39L469.68,1233.73L492.11,1233.91L517.86,1234.26L547.42,1234.61L581.37,1236.01L620.34,1237.75L665.09,1238.63L716.47,1238.98L775.46,1239.15L843.19,1239.33L920.95,1239.50L1010.24,1239.50L1112.75,1239.50L1230.45,1239.50L1365.59,1239.50L1520.75,1239.50L1698.90,1239.50L1903.44,1239.50" stroke="#000" stroke-width="1.6" fill="none" stroke-linejoin="round"/>
<path d="M106.30,1227.70L116.52,1245.40L96.08,1245.40Z" fill="#000"/>
<path d="M106.59,1227.70L116.80,1245.40L96.37,1245.40Z" fill="#000"/>
<path d="M106.91,1227.70L117.13,1245.40L96.69,1245.40Z" fill="#000"/>
<path d="M107.28,1227.70L117.50,1245.40L97.06,1245.40Z" fill="#000"/>
<path d="M107.71,1227.70L117.93,1245.40L97.49,1245.40Z" fill="#000"/>
<path d="M108.20,1227.70L118.42,1245.40L97.98,1245.40Z" fill="#000"/>
<path d="M108.76,1227.70L118.98,1245.40L98.54,1245.40Z" fill="#000"/>
<path d="M109.41,1227.70L119.63,1245.40L99.19,1245.40Z" fill="#000"/>
<path d="M110.15,1227.70L120.37,1245.40L99.93,1245.40Z" fill="#000"/>
<path d="M111.00,1227.70L121.22,1245.40L100.78,1245.40Z" fill="#000"/>
<path d="M111.98,1227.70L122.20,1245.40L101.76,1245.40Z" fill="#000"/>
<path d="M113.10,1227.70L123.32,1245.40L102.88,1245.40Z" fill="#000"/>
<path d="M114.39,1227.70L124.61,1245.40L104.17,1245.40Z" fill="#000"/>
<path d="M115.87,1227.70L126.09,1245.40L105.65,1245.40Z" fill="#000"/>
<path d="M117.57,1227.70L127.79,1245.40L107.35,1245.40Z" fill="#000"/>
<path d="M119.52,1227.70L129.74,1245.40L109.30,1245.40Z" fill="#000"/>
<path d="M121.76,1227.70L131.98,1245.40L111.54,1245.40Z" fill="#000"/>
<path d="M124.33,1227.70L134.55,1245.40L114.11,1245.40Z" fill="#000"/>
<path d="M127.28,1196.95L137.50,1214.65L117.06,1214.65Z" fill="#000"/>
<path d="M130.67,760.55L140.89,778.25L120.45,778.25Z" fill="#000"/>
<path d="M134.56,924.60L144.78,942.30L124.34,942.30Z" fill="#000"/>
<path d="M139.03,993.43L149.25,1011.13L128.81,1011.13Z" fill="#000"/>
<path d="M144.16,1052.30L154.38,1070.00L133.94,1070.00Z" fill="#000"/>
<path d="M150.05,1097.55L160.27,1115.25L139.84,1115.25Z" fill="#000"/>
<path d="M156.82,1131.09L167.04,1148.79L146.60,1148.79Z" fill="#000"/>
<path d="M164.58,1156.07L174.80,1173.77L154.37,1173.77Z" fill="#000"/>
<path d="M173.50,1175.46L183.72,1193.16L163.28,1193.16Z" fill="#000"/>
<path d="M183.74,1190.66L193.96,1208.36L173.52,1208.36Z" fill="#000"/>
<path d="M195.49,1200.27L205.71,1217.97L185.27,1217.97Z" fill="#000"/>
<path d="M208.99,1207.96L219.21,1225.66L198.77,1225.66Z" fill="#000"/>
<path d="M224.48,1213.72L234.70,1231.42L214.26,1231.42Z" fill="#000"/>
<path d="M242.27,1217.22L252.49,1234.92L232.06,1234.92Z" fill="#000"/>
<path d="M262.70,1219.84L272.92,1237.54L252.48,1237.54Z" fill="#000"/>
<path d="M286.15,1219.84L296.37,1237.54L275.93,1237.54Z" fill="#000"/>
<path d="M313.08,1220.36L323.30,1238.06L302.86,1238.06Z" fill="#000"/>
<path d="M344.00,1220.71L354.22,1238.41L333.78,1238.41Z" fill="#000"/>
<path d="M379.50,1220.71L389.71,1238.41L369.28,1238.41Z" fill="#000"/>
<path d="M420.25,1221.06L430.47,1238.76L410.03,1238.76Z" fill="#000"/>
<path d="M450.15,1221.59L460.37,1239.29L439.93,1239.29Z" fill="#000"/>
<path d="M469.68,1221.93L479.90,1239.63L459.46,1239.63Z" fill="#000"/>
<path d="M492.11,1222.11L502.33,1239.81L481.89,1239.81Z" fill="#000"/>
<path d="M517.86,1222.46L528.08,1240.16L507.64,1240.16Z" fill="#000"/>
<path d="M547.42,1222.81L557.64,1240.51L537.20,1240.51Z" fill="#000"/>
<path d="M581.37,1224.21L591.59,1241.91L571.15,1241.91Z" fill="#000"/>
<path d="M620.34,1225.95L630.56,1243.65L610.12,1243.65Z" fill="#000"/>
<path d="M665.09,1226.83L675.31,1244.53L654.87,1244.53Z" fill="#000"/>
<path d="M716.47,1227.18L726.69,1244.88L706.25,1244.88Z" fill="#000"/>
<path d="M775.46,1227.35L785.68,1245.05L765.24,1245.05Z" fill="#000"/>
<path d="M843.19,1227.53L853.41,1245.23L832.97,1245.23Z" fill="#000"/>
<path d="M920.95,1227.70L931.17,1245.40L910.74,1245.40Z" fill="#000"/>
<path d="M1010.24,1227.70L1020.46,1245.40L1000.02,1245.40Z" fill="#000"/>
<path d="M1112.75,1227.70L1122.97,1245.40L1102.53,1245.40Z" fill="#000"/>
<path d="M1230.45,1227.70L1240.67,1245.40L1220.24,1245.40Z" fill="#000"/>
<path d="M1365.59,1227.70L1375.81,1245.40L1355.37,1245.40Z" fill="#000"/>
<path d="M1520.75,1227.70L1530.97,1245.40L1510.54,1245.40Z" fill="#000"/>
<path d="M1698.90,1227.70L1709.12,1245.40L1688.68,1245.40Z" fill="#000"/>
<path d="M1903.44,1227.70L1913.66,1245.40L1893.22,1245.40Z" fill="#000"/>
<path d="M121.76,1234.26L124.33,1231.64L127.28,1229.02L130.67,1228.14L134.56,980.59L139.03,981.82L144.16,997.89L150.05,1023.75L156.82,1066.37L164.58,1109.17L173.50,1148.48L183.74,1179.75L195.49,1198.10L208.99,1209.98L224.48,1213.12L242.27,1214.17L262.70,1212.95L286.15,1211.37L313.08,1211.02L344.00,1212.42L379.50,1215.57L420.25,1218.89L450.15,1219.93L469.68,1222.90L492.11,1225.52L517.86,1226.22L547.42,1227.27L581.37,1234.26L620.34,1236.01L665.09,1236.88L716.47,1237.75L775.46,1238.63L843.19,1239.15L920.95,1239.50L1010.24,1239.50L1112.75,1239.50L1230.45,1239.50L1365.59,1239.50L1520.75,1239.50L1698.90,1239.50L1903.44,1239.50" stroke="#000" stroke-width="1.6" fill="none" stroke-linejoin="round"/>
<path d="M112.76,1234.26H130.76M121.76,1225.26V1243.26M112.76,1225.26L130.76,1243.26M112.76,1243.26L130.76,1225.26" stroke="#000" stroke-width="1.6" fill="none"/>
<path d="M115.33,1231.64H133.33M124.33,1222.64V1240.64M115.33,1222.64L133.33,1240.64M115.33,1240.64L133.33,1222.64" stroke="#000" stroke-width="1.6" fill="none"/>
<path d="M118.28,1229.02H136.28M127.28,1220.02V1238.02M118.28,1220.02L136.28,1238.02M118.28,1238.02L136.28,1220.02" stroke="#000" stroke-width="1.6" fill="none"/>
<path d="M121.67,1228.14H139.67M130.67,1219.14V1237.14M121.67,1219.14L139.67,1237.14M121.67,1237.14L139.67,1219.14" stroke="#000" stroke-width="1.6" fill="none"/>
<path d="M125.56,980.59H143.56M134.56,971.59V989.59M125.56,971.59L143.56,989.59M125.56,989.59L143.56,971.59" stroke="#000" stroke-width="1.6" fill="none"/>
<path d="M130.03,981.82H148.03M139.03,972.82V990.82M130.03,972.82L148.03,990.82M130.03,990.82L148.03,972.82" stroke="#000" stroke-width="1.6" fill="none"/>
<path d="M135.16,997.89H153.16M144.16,988.89V1006.89M135.16,988.89L153.16,1006.89M135.16,1006.89L153.16,988.89" stroke="#000" stroke-width="1.6" fill="none"/>
<path d="M141.05,1023.75H159.05M150.05,1014.75V1032.75M141.05,1014.75L159.05,1032.75M141.05,1032.75L159.05,1014.75" stroke="#000" stroke-width="1.6" fill="none"/>
<path d="M147.82,1066.37H165.82M156.82,1057.37V1075.37M147.82,1057.37L165.82,1075.37M147.82,1075.37L165.82,1057.37" stroke="#000" stroke-width="1.6" fill="none"/>
<path d="M155.58,1109.17H173.58M164.58,1100.17V1118.17M155.58,1100.17L173.58,1118.17M155.58,1118.17L173.58,1100.17" stroke="#000" stroke-width="1.6" fill="none"/>
<path d="M164.50,1148.48H182.50M173.50,1139.48V1157.48M164.50,1139.48L182.50,1157.48M164.50,1157.48L182.50,1139.48" stroke="#000" stroke-width="1.6" fill="none"/>
<path d="M174.74,1179.75H192.74M183.74,1170.75V1188.75M174.74,1170.75L192.74,1188.75M174.74,1188.75L192.74,1170.75" stroke="#000" stroke-width="1.6" fill="none"/>
<path d="M186.49,1198.10H204.49M195.49,1189.10V1207.10M186.49,1189.10L204.49,1207.10M186.49,1207.10L204.49,1189.10" stroke="#000" stroke-width="1.6" fill="none"/>
<path d="M199.99,1209.98H217.99M208.99,1200.98V1218.98M199.99,1200.98L217.99,1218.98M199.99,1218.98L217.99,1200.98" stroke="#000" stroke-width="1.6" fill="none"/>
<path d="M215.48,1213.12H233.48M224.48,1204.12V1222.12M215.48,1204.12L233.48,1222.12M215.48,1222.12L233.48,1204.12" stroke="#000" stroke-width="1.6" fill="none"/>
<path d="M233.27,1214.17H251.27M242.27,1205.17V1223.17M233.27,1205.17L251.27,1223.17M233.27,1223.17L251.27,1205.17" stroke="#000" stroke-width="1.6" fill="none"/>
<path d="M253.70,1212.95H271.70M262.70,1203.95V1221.95M253.70,1203.95L271.70,1221.95M253.70,1221.95L271.70,1203.95" stroke="#000" stroke-width="1.6" fill="none"/>
<path d="M277.15,1211.37H295.15M286.15,1202.37V1220.37M277.15,1202.37L295.15,1220.37M277.15,1220.37L295.15,1202.37" stroke="#000" stroke-width="1.6" fill="none"/>
<path d="M304.08,1211.02H322.08M313.08,1202.02V1220.02M304.08,1202.02L322.08,1220.02M304.08,1220.02L322.08,1202.02" stroke="#000" stroke-width="1.6" fill="none"/>
<path d="M335.00,1212.42H353.00M344.00,1203.42V1221.42M335.00,1203.42L353.00,1221.42M335.00,1221.42L353.00,1203.42" stroke="#000" stroke-width="1.6" fill="none"/>
<path d="M370.50,1215.57H388.50M379.50,1206.57V1224.57M370.50,1206.57L388.50,1224.57M370.50,1224.57L388.50,1206.57" stroke="#000" stroke-width="1.6" fill="none"/>
<path d="M411.25,1218.89H429.25M420.25,1209.89V1227.89M411.25,1209.89L429.25,1227.89M411.25,1227.89L429.25,1209.89" stroke="#000" stroke-width="1.6" fill="none"/>
<path d="M441.15,1219.93H459.15M450.15,1210.93V1228.93M441.15,1210.93L459.15,1228.93M441.15,1228.93L459.15,1210.93" stroke="#000" stroke-width="1.6" fill="none"/>
<path d="M460.68,1222.90H478.68M469.68,1213.90V1231.90M460.68,1213.90L478.68,1231.90M460.68,1231.90L478.68,1213.90" stroke="#000" stroke-width="1.6" fill="none"/>
<path d="M483.11,1225.52H501.11M492.11,1216.52V1234.52M483.11,1216.52L501.11,1234.52M483.11,1234.52L501.11,1216.52" stroke="#000" stroke-width="1.6" fill="none"/>
<path d="M508.86,1226.22H526.86M517.86,1217.22V1235.22M508.86,1217.22L526.86,1235.22M508.86,1235.22L526.86,1217.22" stroke="#000" stroke-width="1.6" fill="none"/>
<path d="M538.42,1227.27H556.42M547.42,1218.27V1236.27M538.42,1218.27L556.42,1236.27M538.42,1236.27L556.42,1218.27" stroke="#000" stroke-width="1.6" fill="none"/>
<path d="M572.37,1234.26H590.37M581.37,1225.26V1243.26M572.37,1225.26L590.37,1243.26M572.37,1243.26L590.37,1225.26" stroke="#000" stroke-width="1.6" fill="none"/>
<path d="M611.34,1236.01H629.34M620.34,1227.01V1245.01M611.34,1227.01L629.34,1245.01M611.34,1245.01L629.34,1227.01" stroke="#000" stroke-width="1.6" fill="none"/>
<path d="M656.09,1236.88H674.09M665.09,1227.88V1245.88M656.09,1227.88L674.09,1245.88M656.09,1245.88L674.09,1227.88" stroke="#000" stroke-width="1.6" fill="none"/>
<path d="M707.47,1237.75H725.47M716.47,1228.75V1246.75M707.47,1228.75L725.47,1246.75M707.47,1246.75L725.47,1228.75" stroke="#000" stroke-width="1.6" fill="none"/>
<path d="M766.46,1238.63H784.46M775.46,1229.63V1247.63M766.46,1229.63L784.46,1247.63M766.46,1247.63L784.46,1229.63" stroke="#000" stroke-width="1.6" fill="none"/>
<path d="M834.19,1239.15H852.19M843.19,1230.15V1248.15M834.19,1230.15L852.19,1248.15M834.19,1248.15L852.19,1230.15" stroke="#000" stroke-width="1.6" fill="none"/>
<path d="M911.95,1239.50H929.95M920.95,1230.50V1248.50M911.95,1230.50L929.95,1248.50M911.95,1248.50L929.95,1230.50" stroke="#000" stroke-width="1.6" fill="none"/>
<path d="M1001.24,1239.50H1019.24M1010.24,1230.50V1248.50M1001.24,1230.50L1019.24,1248.50M1001.24,1248.50L1019.24,1230.50" stroke="#000" stroke-width="1.6" fill="none"/>
<path d="M1103.75,1239.50H1121.75M1112.75,1230.50V1248.50M1103.75,1230.50L1121.75,1248.50M1103.75,1248.50L1121.75,1230.50" stroke="#000" stroke-width="1.6" fill="none"/>
<path d="M1221.45,1239.50H1239.45M1230.45,1230.50V1248.50M1221.45,1230.50L1239.45,1248.50M1221.45,1248.50L1239.45,1230.50" stroke="#000" stroke-width="1.6" fill="none"/>
<path d="M1356.59,1239.50H1374.59M1365.59,1230.50V1248.50M1356.59,1230.50L1374.59,1248.50M1356.59,1248.50L1374.59,1230.50" stroke="#000" stroke-width="1.6" fill="none"/>
<path d="M1511.75,1239.50H1529.75M1520.75,1230.50V1248.50M1511.75,1230.50L1529.75,1248.50M1511.75,1248.50L1529.75,1230.50" stroke="#000" stroke-width="1.6" fill="none"/>
<path d="M1689.90,1239.50H1707.90M1698.90,1230.50V1248.50M1689.90,1230.50L1707.90,1248.50M1689.90,1248.50L1707.90,1230.50" stroke="#000" stroke-width="1.6" fill="none"/>
<path d="M1894.44,1239.50H1912.44M1903.44,1230.50V1248.50M1894.44,1230.50L1912.44,1248.50M1894.44,1248.50L1912.44,1230.50" stroke="#000" stroke-width="1.6" fill="none"/>
<path d="M144.16,1239.50L150.05,1239.50L156.82,1239.50L164.58,1239.50L173.50,1239.50L183.74,1239.50L195.49,1232.51L208.99,975.35L224.48,936.05L242.27,939.71L262.70,998.41L286.15,1072.66L313.08,1149.53L344.00,1196.87L379.50,1228.14L420.25,1233.91L450.15,1226.05L469.68,1215.22L492.11,1203.34L517.86,1195.65L547.42,1194.60L581.37,1197.92L620.34,1205.78L665.09,1214.34L716.47,1222.55L775.46,1229.02L843.19,1234.26L920.95,1237.75L1010.24,1239.50L1112.75,1239.50L1230.45,1239.50" stroke="#000" stroke-width="1.6" fill="none" stroke-linejoin="round"/>
<circle cx="144.16" cy="1239.50" r="7.8" stroke="#000" stroke-width="1.6" fill="none"/><path d="M136.16,1231.50L152.16,1247.50M136.16,1247.50L152.16,1231.50" stroke="#000" stroke-width="1.6"/>
<circle cx="150.05" cy="1239.50" r="7.8" stroke="#000" stroke-width="1.6" fill="none"/><path d="M142.05,1231.50L158.05,1247.50M142.05,1247.50L158.05,1231.50" stroke="#000" stroke-width="1.6"/>
<circle cx="156.82" cy="1239.50" r="7.8" stroke="#000" stroke-width="1.6" fill="none"/><path d="M148.82,1231.50L164.82,1247.50M148.82,1247.50L164.82,1231.50" stroke="#000" stroke-width="1.6"/>
<circle cx="164.58" cy="1239.50" r="7.8" stroke="#000" stroke-width="1.6" fill="none"/><path d="M156.58,1231.50L172.58,1247.50M156.58,1247.50L172.58,1231.50" stroke="#000" stroke-width="1.6"/>
<circle cx="173.50" cy="1239.50" r="7.8" stroke="#000" stroke-width="1.6" fill="none"/><path d="M165.50,1231.50L181.50,1247.50M165.50,1247.50L181.50,1231.50" stroke="#000" stroke-width="1.6"/>
<circle cx="183.74" cy="1239.50" r="7.8" stroke="#000" stroke-width="1.6" fill="none"/><path d="M175.74,1231.50L191.74,1247.50M175.74,1247.50L191.74,1231.50" stroke="#000" stroke-width="1.6"/>
<circle cx="195.49" cy="1232.51" r="7.8" stroke="#000" stroke-width="1.6" fill="none"/><path d="M187.49,1224.51L203.49,1240.51M187.49,1240.51L203.49,1224.51" stroke="#000" stroke-width="1.6"/>
<circle cx="208.99" cy="975.35" r="7.8" stroke="#000" stroke-width="1.6" fill="none"/><path d="M200.99,967.35L216.99,983.35M200.99,983.35L216.99,967.35" stroke="#000" stroke-width="1.6"/>
<circle cx="224.48" cy="936.05" r="7.8" stroke="#000" stroke-width="1.6" fill="none"/><path d="M216.48,928.05L232.48,944.05M216.48,944.05L232.48,928.05" stroke="#000" stroke-width="1.6"/>
<circle cx="242.27" cy="939.71" r="7.8" stroke="#000" stroke-width="1.6" fill="none"/><path d="M234.27,931.71L250.27,947.71M234.27,947.71L250.27,931.71" stroke="#000" stroke-width="1.6"/>
<circle cx="262.70" cy="998.41" r="7.8" stroke="#000" stroke-width="1.6" fill="none"/><path d="M254.70,990.41L270.70,1006.41M254.70,1006.41L270.70,990.41" stroke="#000" stroke-width="1.6"/>
<circle cx="286.15" cy="1072.66" r="7.8" stroke="#000" stroke-width="1.6" fill="none"/><path d="M278.15,1064.66L294.15,1080.66M278.15,1080.66L294.15,1064.66" stroke="#000" stroke-width="1.6"/>
<circle cx="313.08" cy="1149.53" r="7.8" stroke="#000" stroke-width="1.6" fill="none"/><path d="M305.08,1141.53L321.08,1157.53M305.08,1157.53L321.08,1141.53" stroke="#000" stroke-width="1.6"/>
<circle cx="344.00" cy="1196.87" r="7.8" stroke="#000" stroke-width="1.6" fill="none"/><path d="M336.00,1188.87L352.00,1204.87M336.00,1204.87L352.00,1188.87" stroke="#000" stroke-width="1.6"/>
<circle cx="379.50" cy="1228.14" r="7.8" stroke="#000" stroke-width="1.6" fill="none"/><path d="M371.50,1220.14L387.50,1236.14M371.50,1236.14L387.50,1220.14" stroke="#000" stroke-width="1.6"/>
<circle cx="420.25" cy="1233.91" r="7.8" stroke="#000" stroke-width="1.6" fill="none"/><path d="M412.25,1225.91L428.25,1241.91M412.25,1241.91L428.25,1225.91" stroke="#000" stroke-width="1.6"/>
<circle cx="450.15" cy="1226.05" r="7.8" stroke="#000" stroke-width="1.6" fill="none"/><path d="M442.15,1218.05L458.15,1234.05M442.15,1234.05L458.15,1218.05" stroke="#000" stroke-width="1.6"/>
<circle cx="469.68" cy="1215.22" r="7.8" stroke="#000" stroke-width="1.6" fill="none"/><path d="M461.68,1207.22L477.68,1223.22M461.68,1223.22L477.68,1207.22" stroke="#000" stroke-width="1.6"/>
<circle cx="492.11" cy="1203.34" r="7.8" stroke="#000" stroke-width="1.6" fill="none"/><path d="M484.11,1195.34L500.11,1211.34M484.11,1211.34L500.11,1195.34" stroke="#000" stroke-width="1.6"/>
<circle cx="517.86" cy="1195.65" r="7.8" stroke="#000" stroke-width="1.6" fill="none"/><path d="M509.86,1187.65L525.86,1203.65M509.86,1203.65L525.86,1187.65" stroke="#000" stroke-width="1.6"/>
<circle cx="547.42" cy="1194.60" r="7.8" stroke="#000" stroke-width="1.6" fill="none"/><path d="M539.42,1186.60L555.42,1202.60M539.42,1202.60L555.42,1186.60" stroke="#000" stroke-width="1.6"/>
<circle cx="581.37" cy="1197.92" r="7.8" stroke="#000" stroke-width="1.6" fill="none"/><path d="M573.37,1189.92L589.37,1205.92M573.37,1205.92L589.37,1189.92" stroke="#000" stroke-width="1.6"/>
<circle cx="620.34" cy="1205.78" r="7.8" stroke="#000" stroke-width="1.6" fill="none"/><path d="M612.34,1197.78L628.34,1213.78M612.34,1213.78L628.34,1197.78" stroke="#000" stroke-width="1.6"/>
<circle cx="665.09" cy="1214.34" r="7.8" stroke="#000" stroke-width="1.6" fill="none"/><path d="M657.09,1206.34L673.09,1222.34M657.09,1222.34L673.09,1206.34" stroke="#000" stroke-width="1.6"/>
<circle cx="716.47" cy="1222.55" r="7.8" stroke="#000" stroke-width="1.6" fill="none"/><path d="M708.47,1214.55L724.47,1230.55M708.47,1230.55L724.47,1214.55" stroke="#000" stroke-width="1.6"/>
<circle cx="775.46" cy="1229.02" r="7.8" stroke="#000" stroke-width="1.6" fill="none"/><path d="M767.46,1221.02L783.46,1237.02M767.46,1237.02L783.46,1221.02" stroke="#000" stroke-width="1.6"/>
<circle cx="843.19" cy="1234.26" r="7.8" stroke="#000" stroke-width="1.6" fill="none"/><path d="M835.19,1226.26L851.19,1242.26M835.19,1242.26L851.19,1226.26" stroke="#000" stroke-width="1.6"/>
<circle cx="920.95" cy="1237.75" r="7.8" stroke="#000" stroke-width="1.6" fill="none"/><path d="M912.95,1229.75L928.95,1245.75M912.95,1245.75L928.95,1229.75" stroke="#000" stroke-width="1.6"/>
<circle cx="1010.24" cy="1239.50" r="7.8" stroke="#000" stroke-width="1.6" fill="none"/><path d="M1002.24,1231.50L1018.24,1247.50M1002.24,1247.50L1018.24,1231.50" stroke="#000" stroke-width="1.6"/>
<circle cx="1112.75" cy="1239.50" r="7.8" stroke="#000" stroke-width="1.6" fill="none"/><path d="M1104.75,1231.50L1120.75,1247.50M1104.75,1247.50L1120.75,1231.50" stroke="#000" stroke-width="1.6"/>
<circle cx="1230.45" cy="1239.50" r="7.8" stroke="#000" stroke-width="1.6" fill="none"/><path d="M1222.45,1231.50L1238.45,1247.50M1222.45,1247.50L1238.45,1231.50" stroke="#000" stroke-width="1.6"/>
<path d="M195.49,1237.75L208.99,1229.02L224.48,1145.69L242.27,1039.82L262.70,989.33L286.15,977.10L313.08,995.97L344.00,1035.10L379.50,1080.87L420.25,1123.50L450.15,1159.49L469.68,1184.82L492.11,1204.21L517.86,1217.31L547.42,1222.73L581.37,1228.14L620.34,1233.39L665.09,1234.26L716.47,1232.51L775.46,1236.01L843.19,1237.75L920.95,1238.63L1010.24,1239.50L1112.75,1239.50L1230.45,1239.50L1365.59,1239.50L1520.75,1239.50L1698.90,1239.50L1903.44,1239.50" stroke="#000" stroke-width="1.6" fill="none" stroke-linejoin="round"/>
<polygon points="195.49,1228.65 197.70,1234.72 204.15,1234.94 199.06,1238.91 200.84,1245.12 195.49,1241.50 190.14,1245.12 191.93,1238.91 186.84,1234.94 193.29,1234.72" fill="#fff" stroke="#000" stroke-width="1.5" stroke-linejoin="round"/>
<polygon points="208.99,1219.92 211.19,1225.98 217.64,1226.21 212.55,1230.18 214.34,1236.38 208.99,1232.77 203.64,1236.38 205.42,1230.18 200.33,1226.21 206.78,1225.98" fill="#fff" stroke="#000" stroke-width="1.5" stroke-linejoin="round"/>
<polygon points="224.48,1136.59 226.69,1142.65 233.14,1142.87 228.05,1146.84 229.83,1153.05 224.48,1149.44 219.13,1153.05 220.92,1146.84 215.83,1142.87 222.28,1142.65" fill="#fff" stroke="#000" stroke-width="1.5" stroke-linejoin="round"/>
<polygon points="242.27,1030.72 244.48,1036.78 250.93,1037.01 245.84,1040.98 247.62,1047.18 242.27,1043.57 236.93,1047.18 238.71,1040.98 233.62,1037.01 240.07,1036.78" fill="#fff" stroke="#000" stroke-width="1.5" stroke-linejoin="round"/>
<polygon points="262.70,980.23 264.90,986.30 271.36,986.52 266.27,990.49 268.05,996.69 262.70,993.08 257.35,996.69 259.13,990.49 254.05,986.52 260.50,986.30" fill="#fff" stroke="#000" stroke-width="1.5" stroke-linejoin="round"/>
<polygon points="286.15,968.00 288.36,974.07 294.81,974.29 289.72,978.26 291.50,984.46 286.15,980.85 280.80,984.46 282.59,978.26 277.50,974.29 283.95,974.07" fill="#fff" stroke="#000" stroke-width="1.5" stroke-linejoin="round"/>
<polygon points="313.08,986.87 315.29,992.93 321.74,993.16 316.65,997.13 318.43,1003.33 313.08,999.72 307.73,1003.33 309.51,997.13 304.43,993.16 310.88,992.93" fill="#fff" stroke="#000" stroke-width="1.5" stroke-linejoin="round"/>
<polygon points="344.00,1026.00 346.20,1032.07 352.65,1032.29 347.56,1036.26 349.35,1042.46 344.00,1038.85 338.65,1042.46 340.43,1036.26 335.34,1032.29 341.79,1032.07" fill="#fff" stroke="#000" stroke-width="1.5" stroke-linejoin="round"/>
<polygon points="379.50,1071.77 381.70,1077.84 388.15,1078.06 383.06,1082.03 384.84,1088.23 379.50,1084.62 374.15,1088.23 375.93,1082.03 370.84,1078.06 377.29,1077.84" fill="#fff" stroke="#000" stroke-width="1.5" stroke-linejoin="round"/>
<polygon points="420.25,1114.40 422.46,1120.47 428.91,1120.69 423.82,1124.66 425.60,1130.86 420.25,1127.25 414.90,1130.86 416.69,1124.66 411.60,1120.69 418.05,1120.47" fill="#fff" stroke="#000" stroke-width="1.5" stroke-linejoin="round"/>
<polygon points="450.15,1150.39 452.35,1156.45 458.80,1156.68 453.71,1160.65 455.50,1166.85 450.15,1163.24 444.80,1166.85 446.58,1160.65 441.49,1156.68 447.94,1156.45" fill="#fff" stroke="#000" stroke-width="1.5" stroke-linejoin="round"/>
<polygon points="469.68,1175.72 471.88,1181.79 478.33,1182.01 473.25,1185.98 475.03,1192.18 469.68,1188.57 464.33,1192.18 466.11,1185.98 461.03,1182.01 467.48,1181.79" fill="#fff" stroke="#000" stroke-width="1.5" stroke-linejoin="round"/>
<polygon points="492.11,1195.11 494.31,1201.18 500.76,1201.40 495.67,1205.37 497.46,1211.57 492.11,1207.96 486.76,1211.57 488.54,1205.37 483.45,1201.40 489.90,1201.18" fill="#fff" stroke="#000" stroke-width="1.5" stroke-linejoin="round"/>
<polygon points="517.86,1208.21 520.06,1214.28 526.51,1214.50 521.42,1218.47 523.21,1224.68 517.86,1221.06 512.51,1224.68 514.29,1218.47 509.20,1214.50 515.65,1214.28" fill="#fff" stroke="#000" stroke-width="1.5" stroke-linejoin="round"/>
<polygon points="547.42,1213.63 549.63,1219.69 556.08,1219.92 550.99,1223.89 552.77,1230.09 547.42,1226.48 542.07,1230.09 543.86,1223.89 538.77,1219.92 545.22,1219.69" fill="#fff" stroke="#000" stroke-width="1.5" stroke-linejoin="round"/>
<polygon points="581.37,1219.04 583.57,1225.11 590.02,1225.33 584.93,1229.30 586.72,1235.51 581.37,1231.89 576.02,1235.51 577.80,1229.30 572.71,1225.33 579.16,1225.11" fill="#fff" stroke="#000" stroke-width="1.5" stroke-linejoin="round"/>
<polygon points="620.34,1224.29 622.55,1230.35 629.00,1230.57 623.91,1234.54 625.69,1240.75 620.34,1237.14 614.99,1240.75 616.78,1234.54 611.69,1230.57 618.14,1230.35" fill="#fff" stroke="#000" stroke-width="1.5" stroke-linejoin="round"/>
<polygon points="665.09,1225.16 667.30,1231.23 673.75,1231.45 668.66,1235.42 670.44,1241.62 665.09,1238.01 659.74,1241.62 661.53,1235.42 656.44,1231.45 662.89,1231.23" fill="#fff" stroke="#000" stroke-width="1.5" stroke-linejoin="round"/>
<polygon points="716.47,1223.41 718.67,1229.48 725.12,1229.70 720.04,1233.67 721.82,1239.87 716.47,1236.26 711.12,1239.87 712.90,1233.67 707.82,1229.70 714.27,1229.48" fill="#fff" stroke="#000" stroke-width="1.5" stroke-linejoin="round"/>
<polygon points="775.46,1226.91 777.66,1232.97 784.11,1233.19 779.03,1237.16 780.81,1243.37 775.46,1239.76 770.11,1243.37 771.89,1237.16 766.81,1233.19 773.26,1232.97" fill="#fff" stroke="#000" stroke-width="1.5" stroke-linejoin="round"/>
<polygon points="843.19,1228.65 845.39,1234.72 851.84,1234.94 846.76,1238.91 848.54,1245.12 843.19,1241.50 837.84,1245.12 839.62,1238.91 834.54,1234.94 840.99,1234.72" fill="#fff" stroke="#000" stroke-width="1.5" stroke-linejoin="round"/>
<polygon points="920.95,1229.53 923.16,1235.59 929.61,1235.81 924.52,1239.79 926.30,1245.99 920.95,1242.38 915.61,1245.99 917.39,1239.79 912.30,1235.81 918.75,1235.59" fill="#fff" stroke="#000" stroke-width="1.5" stroke-linejoin="round"/>
<polygon points="1010.24,1230.40 1012.44,1236.47 1018.89,1236.69 1013.81,1240.66 1015.59,1246.86 1010.24,1243.25 1004.89,1246.86 1006.67,1240.66 1001.59,1236.69 1008.04,1236.47" fill="#fff" stroke="#000" stroke-width="1.5" stroke-linejoin="round"/>
<polygon points="1112.75,1230.40 1114.96,1236.47 1121.41,1236.69 1116.32,1240.66 1118.10,1246.86 1112.75,1243.25 1107.40,1246.86 1109.19,1240.66 1104.10,1236.69 1110.55,1236.47" fill="#fff" stroke="#000" stroke-width="1.5" stroke-linejoin="round"/>
<polygon points="1230.45,1230.40 1232.66,1236.47 1239.11,1236.69 1234.02,1240.66 1235.80,1246.86 1230.45,1243.25 1225.11,1246.86 1226.89,1240.66 1221.80,1236.69 1228.25,1236.47" fill="#fff" stroke="#000" stroke-width="1.5" stroke-linejoin="round"/>
<polygon points="1365.59,1230.40 1367.80,1236.47 1374.25,1236.69 1369.16,1240.66 1370.94,1246.86 1365.59,1243.25 1360.24,1246.86 1362.03,1240.66 1356.94,1236.69 1363.39,1236.47" fill="#fff" stroke="#000" stroke-width="1.5" stroke-linejoin="round"/>
<polygon points="1520.75,1230.40 1522.96,1236.47 1529.41,1236.69 1524.32,1240.66 1526.10,1246.86 1520.75,1243.25 1515.41,1246.86 1517.19,1240.66 1512.10,1236.69 1518.55,1236.47" fill="#fff" stroke="#000" stroke-width="1.5" stroke-linejoin="round"/>
<polygon points="1698.90,1230.40 1701.11,1236.47 1707.56,1236.69 1702.47,1240.66 1704.25,1246.86 1698.90,1243.25 1693.55,1246.86 1695.34,1240.66 1690.25,1236.69 1696.70,1236.47" fill="#fff" stroke="#000" stroke-width="1.5" stroke-linejoin="round"/>
<polygon points="1903.44,1230.40 1905.65,1236.47 1912.10,1236.69 1907.01,1240.66 1908.79,1246.86 1903.44,1243.25 1898.09,1246.86 1899.88,1240.66 1894.79,1236.69 1901.24,1236.47" fill="#fff" stroke="#000" stroke-width="1.5" stroke-linejoin="round"/>
<path d="M216.49,1239.50L216.98,1239.50M230.66,1235.25L236.09,1231.52M243.91,1219.95L261.06,1143.40M264.51,1128.80L284.35,1048.84M288.61,1034.48L310.63,970.91M319.16,959.43L337.92,945.86M350.50,945.20L373.00,958.16M384.00,967.90L415.75,1010.23M423.39,1023.05L447.01,1074.41M452.51,1088.34L467.31,1132.80M473.07,1146.61L488.71,1177.43M496.99,1189.82L512.98,1208.47M524.64,1217.37L540.64,1224.94M554.80,1229.47L573.99,1232.93M588.84,1234.93L612.87,1237.08M627.84,1238.05L657.60,1239.21M672.59,1239.50L708.97,1239.50M723.97,1239.50L767.96,1239.50M782.96,1239.50L835.69,1239.50M850.69,1239.50L913.45,1239.50M928.45,1239.50L1002.74,1239.50M1017.74,1239.50L1105.25,1239.50M1120.25,1239.50L1222.95,1239.50M1237.95,1239.50L1358.09,1239.50M1373.09,1239.50L1513.25,1239.50M1528.25,1239.50L1691.40,1239.50" stroke="#000" stroke-width="1.6" fill="none"/>
<path d="M103.93,1239.50L114.53,1233.38L114.53,1245.62Z" fill="#fff" stroke="#000" stroke-width="1.5"/>
<path d="M104.91,1239.50L115.51,1233.38L115.51,1245.62Z" fill="#fff" stroke="#000" stroke-width="1.5"/>
<path d="M106.03,1239.50L116.63,1233.38L116.63,1245.62Z" fill="#fff" stroke="#000" stroke-width="1.5"/>
<path d="M107.32,1239.50L117.92,1233.38L117.92,1245.62Z" fill="#fff" stroke="#000" stroke-width="1.5"/>
<path d="M108.80,1239.50L119.40,1233.38L119.40,1245.62Z" fill="#fff" stroke="#000" stroke-width="1.5"/>
<path d="M110.50,1239.50L121.10,1233.38L121.10,1245.62Z" fill="#fff" stroke="#000" stroke-width="1.5"/>
<path d="M112.45,1239.50L123.05,1233.38L123.05,1245.62Z" fill="#fff" stroke="#000" stroke-width="1.5"/>
<path d="M114.69,1239.50L125.29,1233.38L125.29,1245.62Z" fill="#fff" stroke="#000" stroke-width="1.5"/>
<path d="M117.26,1239.50L127.86,1233.38L127.86,1245.62Z" fill="#fff" stroke="#000" stroke-width="1.5"/>
<path d="M120.21,1239.50L130.82,1233.38L130.82,1245.62Z" fill="#fff" stroke="#000" stroke-width="1.5"/>
<path d="M123.60,1239.50L134.21,1233.38L134.21,1245.62Z" fill="#fff" stroke="#000" stroke-width="1.5"/>
<path d="M127.49,1239.50L138.10,1233.38L138.10,1245.62Z" fill="#fff" stroke="#000" stroke-width="1.5"/>
<path d="M131.96,1239.50L142.57,1233.38L142.57,1245.62Z" fill="#fff" stroke="#000" stroke-width="1.5"/>
<path d="M137.09,1239.50L147.70,1233.38L147.70,1245.62Z" fill="#fff" stroke="#000" stroke-width="1.5"/>
<path d="M142.98,1239.50L153.59,1233.38L153.59,1245.62Z" fill="#fff" stroke="#000" stroke-width="1.5"/>
<path d="M149.75,1239.50L160.35,1233.38L160.35,1245.62Z" fill="#fff" stroke="#000" stroke-width="1.5"/>
<path d="M157.51,1239.50L168.12,1233.38L168.12,1245.62Z" fill="#fff" stroke="#000" stroke-width="1.5"/>
<path d="M166.43,1239.50L177.04,1233.38L177.04,1245.62Z" fill="#fff" stroke="#000" stroke-width="1.5"/>
<path d="M176.67,1239.50L187.27,1233.38L187.27,1245.62Z" fill="#fff" stroke="#000" stroke-width="1.5"/>
<path d="M188.42,1239.50L199.03,1233.38L199.03,1245.62Z" fill="#fff" stroke="#000" stroke-width="1.5"/>
<path d="M201.92,1239.50L212.52,1233.38L212.52,1245.62Z" fill="#fff" stroke="#000" stroke-width="1.5"/>
<path d="M217.41,1239.50L228.02,1233.38L228.02,1245.62Z" fill="#fff" stroke="#000" stroke-width="1.5"/>
<path d="M235.20,1227.27L245.81,1221.15L245.81,1233.39Z" fill="#fff" stroke="#000" stroke-width="1.5"/>
<path d="M255.63,1136.08L266.24,1129.95L266.24,1142.20Z" fill="#fff" stroke="#000" stroke-width="1.5"/>
<path d="M279.08,1041.56L289.69,1035.44L289.69,1047.69Z" fill="#fff" stroke="#000" stroke-width="1.5"/>
<path d="M306.01,963.82L316.62,957.70L316.62,969.95Z" fill="#fff" stroke="#000" stroke-width="1.5"/>
<path d="M336.93,941.46L347.53,935.34L347.53,947.58Z" fill="#fff" stroke="#000" stroke-width="1.5"/>
<path d="M372.43,961.90L383.03,955.78L383.03,968.02Z" fill="#fff" stroke="#000" stroke-width="1.5"/>
<path d="M413.18,1016.23L423.79,1010.11L423.79,1022.36Z" fill="#fff" stroke="#000" stroke-width="1.5"/>
<path d="M443.08,1081.22L453.68,1075.10L453.68,1087.34Z" fill="#fff" stroke="#000" stroke-width="1.5"/>
<path d="M462.61,1139.92L473.22,1133.80L473.22,1146.04Z" fill="#fff" stroke="#000" stroke-width="1.5"/>
<path d="M485.04,1184.12L495.64,1178.00L495.64,1190.24Z" fill="#fff" stroke="#000" stroke-width="1.5"/>
<path d="M510.79,1214.17L521.39,1208.05L521.39,1220.29Z" fill="#fff" stroke="#000" stroke-width="1.5"/>
<path d="M540.35,1228.14L550.96,1222.02L550.96,1234.27Z" fill="#fff" stroke="#000" stroke-width="1.5"/>
<path d="M574.30,1234.26L584.90,1228.14L584.90,1240.38Z" fill="#fff" stroke="#000" stroke-width="1.5"/>
<path d="M613.27,1237.75L623.88,1231.63L623.88,1243.88Z" fill="#fff" stroke="#000" stroke-width="1.5"/>
<path d="M658.02,1239.50L668.63,1233.38L668.63,1245.62Z" fill="#fff" stroke="#000" stroke-width="1.5"/>
<path d="M709.40,1239.50L720.00,1233.38L720.00,1245.62Z" fill="#fff" stroke="#000" stroke-width="1.5"/>
<path d="M768.39,1239.50L779.00,1233.38L779.00,1245.62Z" fill="#fff" stroke="#000" stroke-width="1.5"/>
<path d="M836.12,1239.50L846.73,1233.38L846.73,1245.62Z" fill="#fff" stroke="#000" stroke-width="1.5"/>
<path d="M913.88,1239.50L924.49,1233.38L924.49,1245.62Z" fill="#fff" stroke="#000" stroke-width="1.5"/>
<path d="M1003.17,1239.50L1013.78,1233.38L1013.78,1245.62Z" fill="#fff" stroke="#000" stroke-width="1.5"/>
<path d="M1105.68,1239.50L1116.29,1233.38L1116.29,1245.62Z" fill="#fff" stroke="#000" stroke-width="1.5"/>
<path d="M1223.38,1239.50L1233.99,1233.38L1233.99,1245.62Z" fill="#fff" stroke="#000" stroke-width="1.5"/>
<path d="M1358.52,1239.50L1369.13,1233.38L1369.13,1245.62Z" fill="#fff" stroke="#000" stroke-width="1.5"/>
<path d="M1513.68,1239.50L1524.29,1233.38L1524.29,1245.62Z" fill="#fff" stroke="#000" stroke-width="1.5"/>
<path d="M1691.83,1239.50L1702.44,1233.38L1702.44,1245.62Z" fill="#fff" stroke="#000" stroke-width="1.5"/>
</g>
<rect x="104.5" y="38.3" width="648.5" height="524.1" fill="none" stroke="#000" stroke-width="1.7"/>
<line x1="104.50" y1="562.4" x2="104.50" y2="573.1999999999999" stroke="#000" stroke-width="1.6"/>
<text x="104.50" y="603.80" font-size="30.5" text-anchor="middle" >0</text>
<line x1="212.62" y1="562.4" x2="212.62" y2="573.1999999999999" stroke="#000" stroke-width="1.6"/>
<text x="212.62" y="603.80" font-size="30.5" text-anchor="middle" >200</text>
<line x1="320.73" y1="562.4" x2="320.73" y2="573.1999999999999" stroke="#000" stroke-width="1.6"/>
<text x="320.73" y="603.80" font-size="30.5" text-anchor="middle" >400</text>
<line x1="428.85" y1="562.4" x2="428.85" y2="573.1999999999999" stroke="#000" stroke-width="1.6"/>
<text x="428.85" y="603.80" font-size="30.5" text-anchor="middle" >600</text>
<line x1="536.96" y1="562.4" x2="536.96" y2="573.1999999999999" stroke="#000" stroke-width="1.6"/>
<text x="536.96" y="603.80" font-size="30.5" text-anchor="middle" >800</text>
<line x1="645.08" y1="562.4" x2="645.08" y2="573.1999999999999" stroke="#000" stroke-width="1.6"/>
<text x="645.08" y="603.80" font-size="30.5" text-anchor="middle" >1000</text>
<line x1="753.20" y1="562.4" x2="753.20" y2="573.1999999999999" stroke="#000" stroke-width="1.6"/>
<text x="753.20" y="603.80" font-size="30.5" text-anchor="middle" >1200</text>
<line x1="93.7" y1="562.40" x2="104.5" y2="562.40" stroke="#000" stroke-width="1.6"/>
<text x="87.40" y="572.10" font-size="30.5" text-anchor="end" >0</text>
<line x1="93.7" y1="496.92" x2="104.5" y2="496.92" stroke="#000" stroke-width="1.6"/>
<text x="87.40" y="506.62" font-size="30.5" text-anchor="end" >2</text>
<line x1="93.7" y1="431.44" x2="104.5" y2="431.44" stroke="#000" stroke-width="1.6"/>
<text x="87.40" y="441.14" font-size="30.5" text-anchor="end" >4</text>
<line x1="93.7" y1="365.96" x2="104.5" y2="365.96" stroke="#000" stroke-width="1.6"/>
<text x="87.40" y="375.66" font-size="30.5" text-anchor="end" >6</text>
<line x1="93.7" y1="300.48" x2="104.5" y2="300.48" stroke="#000" stroke-width="1.6"/>
<text x="87.40" y="310.18" font-size="30.5" text-anchor="end" >8</text>
<line x1="93.7" y1="235.00" x2="104.5" y2="235.00" stroke="#000" stroke-width="1.6"/>
<text x="87.40" y="244.70" font-size="30.5" text-anchor="end" >10</text>
<line x1="93.7" y1="169.52" x2="104.5" y2="169.52" stroke="#000" stroke-width="1.6"/>
<text x="87.40" y="179.22" font-size="30.5" text-anchor="end" >12</text>
<line x1="93.7" y1="104.04" x2="104.5" y2="104.04" stroke="#000" stroke-width="1.6"/>
<text x="87.40" y="113.74" font-size="30.5" text-anchor="end" >14</text>
<line x1="93.7" y1="38.56" x2="104.5" y2="38.56" stroke="#000" stroke-width="1.6"/>
<text x="87.40" y="48.26" font-size="30.5" text-anchor="end" >16</text>
<line x1="104.4" y1="715.1" x2="104.4" y2="1239.5" stroke="#000" stroke-width="1.6"/>
<line x1="753.0" y1="714.3000000000001" x2="753.0" y2="1240.3" stroke="#000" stroke-width="1.6"/>
<line x1="103.60000000000001" y1="715.1" x2="423.0" y2="715.1" stroke="#000" stroke-width="1.6"/>
<line x1="434.5" y1="715.1" x2="753.8" y2="715.1" stroke="#000" stroke-width="1.6"/>
<line x1="103.60000000000001" y1="1239.5" x2="423.0" y2="1239.5" stroke="#000" stroke-width="1.6"/>
<line x1="434.5" y1="1239.5" x2="753.8" y2="1239.5" stroke="#000" stroke-width="1.6"/>
<line x1="423" y1="1239.3" x2="434.5" y2="1239.3" stroke="#000" stroke-width="1"/>
<path d="M417.4,719.1L429,711.1M428.8,719.1L440.4,711.1" stroke="#000" stroke-width="2"/>
<path d="M417.4,1243.5L429,1235.5M428.8,1243.5L440.4,1235.5" stroke="#000" stroke-width="2"/>
<line x1="104.40" y1="1239.5" x2="104.40" y2="1250.3" stroke="#000" stroke-width="1.6"/>
<text x="104.40" y="1280.90" font-size="30.5" text-anchor="middle" >0</text>
<line x1="184.00" y1="1239.5" x2="184.00" y2="1250.3" stroke="#000" stroke-width="1.6"/>
<text x="184.00" y="1280.90" font-size="30.5" text-anchor="middle" >20</text>
<line x1="263.60" y1="1239.5" x2="263.60" y2="1250.3" stroke="#000" stroke-width="1.6"/>
<text x="263.60" y="1280.90" font-size="30.5" text-anchor="middle" >40</text>
<line x1="343.20" y1="1239.5" x2="343.20" y2="1250.3" stroke="#000" stroke-width="1.6"/>
<text x="343.20" y="1280.90" font-size="30.5" text-anchor="middle" >60</text>
<line x1="463.00" y1="1239.5" x2="463.00" y2="1250.3" stroke="#000" stroke-width="1.6"/>
<text x="463.00" y="1280.90" font-size="30.5" text-anchor="middle" >100</text>
<line x1="535.35" y1="1239.5" x2="535.35" y2="1250.3" stroke="#000" stroke-width="1.6"/>
<text x="535.35" y="1280.90" font-size="30.5" text-anchor="middle" >150</text>
<line x1="607.70" y1="1239.5" x2="607.70" y2="1250.3" stroke="#000" stroke-width="1.6"/>
<text x="607.70" y="1280.90" font-size="30.5" text-anchor="middle" >200</text>
<line x1="680.05" y1="1239.5" x2="680.05" y2="1250.3" stroke="#000" stroke-width="1.6"/>
<text x="680.05" y="1280.90" font-size="30.5" text-anchor="middle" >250</text>
<line x1="752.40" y1="1239.5" x2="752.40" y2="1250.3" stroke="#000" stroke-width="1.6"/>
<text x="752.40" y="1280.90" font-size="30.5" text-anchor="middle" >300</text>
<line x1="93.60000000000001" y1="1239.50" x2="104.4" y2="1239.50" stroke="#000" stroke-width="1.6"/>
<text x="87.40" y="1249.20" font-size="30.5" text-anchor="end" >0</text>
<line x1="93.60000000000001" y1="1152.15" x2="104.4" y2="1152.15" stroke="#000" stroke-width="1.6"/>
<text x="87.40" y="1161.85" font-size="30.5" text-anchor="end" >5</text>
<line x1="93.60000000000001" y1="1064.80" x2="104.4" y2="1064.80" stroke="#000" stroke-width="1.6"/>
<text x="87.40" y="1074.50" font-size="30.5" text-anchor="end" >10</text>
<line x1="93.60000000000001" y1="977.45" x2="104.4" y2="977.45" stroke="#000" stroke-width="1.6"/>
<text x="87.40" y="987.15" font-size="30.5" text-anchor="end" >15</text>
<line x1="93.60000000000001" y1="890.10" x2="104.4" y2="890.10" stroke="#000" stroke-width="1.6"/>
<text x="87.40" y="899.80" font-size="30.5" text-anchor="end" >20</text>
<line x1="93.60000000000001" y1="802.75" x2="104.4" y2="802.75" stroke="#000" stroke-width="1.6"/>
<text x="87.40" y="812.45" font-size="30.5" text-anchor="end" >25</text>
<line x1="93.60000000000001" y1="715.40" x2="104.4" y2="715.40" stroke="#000" stroke-width="1.6"/>
<text x="87.40" y="725.10" font-size="30.5" text-anchor="end" >30</text>
<rect x="457.5" y="38.3" width="294.4" height="317.4" fill="#fff" stroke="#000" stroke-width="1.3"/>
<line x1="460" y1="67.00" x2="510.7" y2="67.00" stroke="#000" stroke-width="1.4"/>
<rect x="477.90" y="59.60" width="14.8" height="14.8" fill="#000"/>
<text x="517.9" y="74.70" font-size="33">MC</text>
<text x="568" y="75.00" font-size="39.5">(</text>
<text x="580.2" y="74.70" font-size="33">PVP</text>
<text x="637.9" y="82.90" font-size="33">1</text>
<text x="656.4" y="75.00" font-size="39.5">)</text>
<line x1="460" y1="119.40" x2="510.7" y2="119.40" stroke="#000" stroke-width="1.4"/>
<path d="M485.30,107.60L495.52,125.30L475.08,125.30Z" fill="#000"/>
<text x="517.9" y="127.10" font-size="33">MC</text>
<text x="568" y="127.40" font-size="39.5">(</text>
<text x="580.2" y="127.10" font-size="33">PVP</text>
<text x="639.8" y="135.30" font-size="33">6</text>
<text x="656.4" y="127.40" font-size="39.5">)</text>
<line x1="460" y1="171.80" x2="510.7" y2="171.80" stroke="#000" stroke-width="1.4"/>
<path d="M476.30,171.80H494.30M485.30,162.80V180.80M476.30,162.80L494.30,180.80M476.30,180.80L494.30,162.80" stroke="#000" stroke-width="1.6" fill="none"/>
<text x="517.9" y="179.50" font-size="33">MC</text>
<text x="568" y="179.80" font-size="39.5">(</text>
<text x="580.2" y="179.50" font-size="33">PVP</text>
<text x="640.2" y="187.70" font-size="33">10</text>
<text x="672.8" y="179.80" font-size="39.5">)</text>
<line x1="460" y1="224.20" x2="510.7" y2="224.20" stroke="#000" stroke-width="1.4"/>
<circle cx="485.30" cy="224.20" r="7.8" stroke="#000" stroke-width="1.6" fill="none"/><path d="M477.30,216.20L493.30,232.20M477.30,232.20L493.30,216.20" stroke="#000" stroke-width="1.6"/>
<text x="517.9" y="231.90" font-size="33">MC</text>
<text x="568" y="232.20" font-size="39.5">(</text>
<text x="580.2" y="231.90" font-size="33">PVP</text>
<text x="639.8" y="240.10" font-size="33">20</text>
<text x="672.8" y="232.20" font-size="39.5">)</text>
<line x1="460" y1="276.60" x2="510.7" y2="276.60" stroke="#000" stroke-width="1.4"/>
<polygon points="485.30,267.50 487.50,273.57 493.95,273.79 488.87,277.76 490.65,283.96 485.30,280.35 479.95,283.96 481.73,277.76 476.65,273.79 483.10,273.57" fill="#fff" stroke="#000" stroke-width="1.5" stroke-linejoin="round"/>
<text x="517.9" y="284.30" font-size="33">MC</text>
<text x="568" y="284.60" font-size="39.5">(</text>
<text x="580.2" y="284.30" font-size="33">PVP</text>
<text x="639.8" y="292.50" font-size="33">6</text>
<text x="656.4" y="284.60" font-size="39.5">)</text>
<text x="668.3" y="292.50" font-size="33">100L</text>
<path d="M460,329.00H477M492,329.00H510.7" stroke="#000" stroke-width="1.4"/>
<path d="M478.23,329.00L488.84,322.88L488.84,335.12Z" fill="#fff" stroke="#000" stroke-width="1.5"/>
<text x="517.9" y="336.70" font-size="33">MC</text>
<text x="568" y="337.00" font-size="39.5">(</text>
<text x="580.2" y="336.70" font-size="33">PVP</text>
<text x="638.6" y="344.90" font-size="33">10</text>
<text x="671.2" y="337.00" font-size="39.5">)</text>
<text x="681.6" y="344.90" font-size="33">100L</text>
<rect x="457.5" y="715.1" width="294.4" height="317.4" fill="#fff" stroke="#000" stroke-width="1.3"/>
<line x1="460" y1="743.80" x2="510.7" y2="743.80" stroke="#000" stroke-width="1.4"/>
<rect x="477.90" y="736.40" width="14.8" height="14.8" fill="#000"/>
<text x="517.9" y="751.50" font-size="33">MC</text>
<text x="568" y="751.80" font-size="39.5">(</text>
<text x="580.2" y="751.50" font-size="33">PVP</text>
<text x="637.9" y="759.70" font-size="33">1</text>
<text x="656.4" y="751.80" font-size="39.5">)</text>
<line x1="460" y1="796.20" x2="510.7" y2="796.20" stroke="#000" stroke-width="1.4"/>
<path d="M485.30,784.40L495.52,802.10L475.08,802.10Z" fill="#000"/>
<text x="517.9" y="803.90" font-size="33">MC</text>
<text x="568" y="804.20" font-size="39.5">(</text>
<text x="580.2" y="803.90" font-size="33">PVP</text>
<text x="639.8" y="812.10" font-size="33">6</text>
<text x="656.4" y="804.20" font-size="39.5">)</text>
<line x1="460" y1="848.60" x2="510.7" y2="848.60" stroke="#000" stroke-width="1.4"/>
<path d="M476.30,848.60H494.30M485.30,839.60V857.60M476.30,839.60L494.30,857.60M476.30,857.60L494.30,839.60" stroke="#000" stroke-width="1.6" fill="none"/>
<text x="517.9" y="856.30" font-size="33">MC</text>
<text x="568" y="856.60" font-size="39.5">(</text>
<text x="580.2" y="856.30" font-size="33">PVP</text>
<text x="640.2" y="864.50" font-size="33">10</text>
<text x="672.8" y="856.60" font-size="39.5">)</text>
<line x1="460" y1="901.00" x2="510.7" y2="901.00" stroke="#000" stroke-width="1.4"/>
<circle cx="485.30" cy="901.00" r="7.8" stroke="#000" stroke-width="1.6" fill="none"/><path d="M477.30,893.00L493.30,909.00M477.30,909.00L493.30,893.00" stroke="#000" stroke-width="1.6"/>
<text x="517.9" y="908.70" font-size="33">MC</text>
<text x="568" y="909.00" font-size="39.5">(</text>
<text x="580.2" y="908.70" font-size="33">PVP</text>
<text x="639.8" y="916.90" font-size="33">20</text>
<text x="672.8" y="909.00" font-size="39.5">)</text>
<line x1="460" y1="953.40" x2="510.7" y2="953.40" stroke="#000" stroke-width="1.4"/>
<polygon points="485.30,944.30 487.50,950.37 493.95,950.59 488.87,954.56 490.65,960.76 485.30,957.15 479.95,960.76 481.73,954.56 476.65,950.59 483.10,950.37" fill="#fff" stroke="#000" stroke-width="1.5" stroke-linejoin="round"/>
<text x="517.9" y="961.10" font-size="33">MC</text>
<text x="568" y="961.40" font-size="39.5">(</text>
<text x="580.2" y="961.10" font-size="33">PVP</text>
<text x="639.8" y="969.30" font-size="33">6</text>
<text x="656.4" y="961.40" font-size="39.5">)</text>
<text x="668.3" y="969.30" font-size="33">100L</text>
<path d="M460,1005.80H477M492,1005.80H510.7" stroke="#000" stroke-width="1.4"/>
<path d="M478.23,1005.80L488.84,999.68L488.84,1011.92Z" fill="#fff" stroke="#000" stroke-width="1.5"/>
<text x="517.9" y="1013.50" font-size="33">MC</text>
<text x="568" y="1013.80" font-size="39.5">(</text>
<text x="580.2" y="1013.50" font-size="33">PVP</text>
<text x="638.6" y="1021.70" font-size="33">10</text>
<text x="671.2" y="1013.80" font-size="39.5">)</text>
<text x="681.6" y="1021.70" font-size="33">100L</text>
<text transform="translate(19.3,45) scale(0.85,1)" font-family="'Liberation Sans', sans-serif" font-weight="bold" font-size="54">a</text>
<text x="18.2" y="712" font-family="'Liberation Sans', sans-serif" font-weight="bold" font-size="52">b</text>
<text x="427.8" y="653.6" font-size="37.2" text-anchor="middle">Particle size (μm)</text>
<text x="427.8" y="1326.3" font-size="37.2" text-anchor="middle">Particle size (μm)</text>
<text transform="translate(31.4,300.8) rotate(-90)" font-size="38" text-anchor="middle">Volume (%)</text>
<text transform="translate(31.4,978.5) rotate(-90)" font-size="38" text-anchor="middle">Number (%)</text>
</svg>
</body></html>
